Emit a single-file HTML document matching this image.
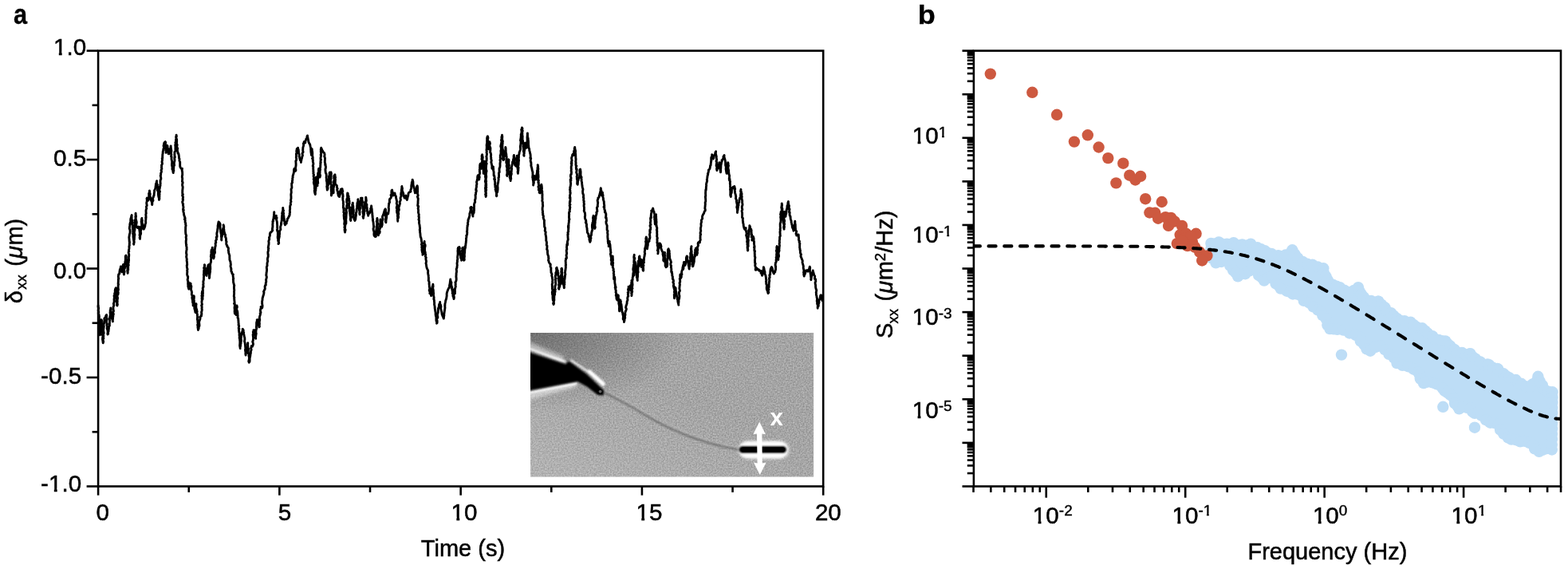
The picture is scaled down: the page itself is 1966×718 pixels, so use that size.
<!DOCTYPE html>
<html lang="en"><head><meta charset="utf-8"><title>Figure</title>
<style>html,body{margin:0;padding:0;background:#fff;}body{width:1966px;height:718px;overflow:hidden;}svg{display:block;font-family:'Liberation Sans', sans-serif;}</style>
</head><body>
<svg width="1966" height="718" viewBox="0 0 1966 718" role="img" aria-label="Figure: panel a, displacement trace versus time with micrograph inset; panel b, power spectral density versus frequency">
<rect x="0" y="0" width="1966" height="718" fill="#fff"/>
<defs>
<filter id="grain" x="0" y="0" width="100%" height="100%" color-interpolation-filters="sRGB"><feTurbulence type="fractalNoise" baseFrequency="0.55" numOctaves="2" seed="7" result="n"/><feGaussianBlur in="n" stdDeviation="0.55" result="nb"/><feColorMatrix in="nb" type="matrix" values="0 0 0 0.30 0.495  0 0 0 0.30 0.495  0 0 0 0.30 0.495  0 0 0 0 1"/></filter>
<filter id="b1" x="-20%" y="-20%" width="140%" height="140%"><feGaussianBlur stdDeviation="1.1"/></filter>
<filter id="b2" x="-20%" y="-20%" width="140%" height="140%"><feGaussianBlur stdDeviation="2.2"/></filter>
<filter id="b05" x="-20%" y="-20%" width="140%" height="140%"><feGaussianBlur stdDeviation="0.7"/></filter>
<radialGradient id="shadeTL" cx="0" cy="0" r="0.55" gradientTransform="scale(1,1)"><stop offset="0" stop-color="#000" stop-opacity="0.32"/><stop offset="1" stop-color="#000" stop-opacity="0"/></radialGradient>
<linearGradient id="shadeBL" x1="0" y1="1" x2="0.5" y2="0.4"><stop offset="0" stop-color="#fff" stop-opacity="0.16"/><stop offset="1" stop-color="#fff" stop-opacity="0"/></linearGradient>
<clipPath id="insetClip"><rect x="665.1" y="417.0" width="355.0" height="180.6"/></clipPath>
</defs>
<g clip-path="url(#insetClip)">
<rect x="665.1" y="417.0" width="355.0" height="180.6" fill="#9b9b9b" filter="url(#grain)"/>
<rect x="665.1" y="417.0" width="355.0" height="180.6" fill="url(#shadeTL)"/>
<rect x="665.1" y="417.0" width="355.0" height="180.6" fill="url(#shadeBL)"/>
<path d="M757.5,492.0 L768.0,497.2 L779.1,503.0 L792.3,510.0 L805.0,517.8 L818.8,525.6 L832.0,532.6 L845.3,538.9 L858.0,544.4 L871.8,549.5 L885.0,553.8 L898.2,557.5 L910.0,560.3 L919.4,562.1 L927.0,563.4" fill="none" stroke="#c8c8c8" stroke-width="2" opacity="0.35" transform="translate(1.2,-2.4)" filter="url(#b1)"/>
<path d="M757.5,492.0 L768.0,497.2 L779.1,503.0 L792.3,510.0 L805.0,517.8 L818.8,525.6 L832.0,532.6 L845.3,538.9 L858.0,544.4 L871.8,549.5 L885.0,553.8 L898.2,557.5 L910.0,560.3 L919.4,562.1 L927.0,563.4" fill="none" stroke="#505050" stroke-width="2.4" opacity="0.6" filter="url(#b1)"/>
<g filter="url(#b2)">
<path d="M660,431 L706,450.5" stroke="#fff" stroke-width="7" fill="none" opacity="0.5"/>
<path d="M660,498 L722,481.5" stroke="#fff" stroke-width="7" fill="none" opacity="0.5"/>
</g>
<g filter="url(#b1)">
<path d="M662,436.2 L709,453.4" stroke="#fff" stroke-width="2.8" fill="none" opacity="0.95"/>
<path d="M662,492.6 L723.5,480.4" stroke="#fff" stroke-width="2.8" fill="none" opacity="0.95"/>
<path d="M716,451.5 L738,466 L756,482.5" stroke="#fff" stroke-width="2.6" fill="none" stroke-linecap="round" opacity="0.8"/>
<path d="M739,465.5 L756.5,481" stroke="#fff" stroke-width="4.6" fill="none" stroke-linecap="round"/>
</g>
<g filter="url(#b1)">
<path d="M660,440.5 L709.4,456.5 L713,452.5 L735.2,468.5 L757.5,489.5 L756.5,495.5 L749.5,495 L736,484.5 L724.1,478 L660,490 Z" fill="#000"/>
</g>
<path d="M660,445 L708,459.5 L713.5,456 L732,471 L722,474.5 L660,486 Z" fill="#000"/>
<circle cx="752.6" cy="490.6" r="1.9" fill="#5e5e5e" filter="url(#b05)"/>
<g filter="url(#b2)"><rect x="927.5" y="553.2" width="61" height="21" rx="10.5" fill="#fff"/></g>
<g filter="url(#b1)"><rect x="926" y="553.5" width="61.5" height="20" rx="10" fill="#fff" opacity="0.75"/></g>
<g filter="url(#b1)"><rect x="926.5" y="559.2" width="59.5" height="8.4" rx="4.2" fill="#000"/></g>
<rect x="929" y="560.3" width="55" height="6.2" rx="3.1" fill="#000"/>
<g fill="#fff" filter="url(#b05)">
<path d="M952.2,528.6 L960.0,544.2 L955.4,543.4 L955.8,580.6 L960.6,579.6 L952.8,595.0 L945.0,579.6 L949.6,580.6 L949.0,543.4 L944.4,544.2 Z"/>
</g>
<text x="973.8" y="533" font-size="29.5" font-weight="bold" fill="#fff" text-anchor="middle">x</text>
</g>
<path d="M123.1,383.0 L123.1,384.6 L123.7,386.0 L123.4,387.8 L123.2,389.1 L123.8,391.2 L123.3,391.8 L123.4,394.3 L124.1,394.3 L124.5,397.7 L124.3,398.5 L124.3,399.8 L124.0,400.4 L124.5,402.0 L124.2,403.9 L124.1,405.9 L124.6,408.2 L124.8,409.3 L124.9,410.9 L124.9,411.6 L125.5,414.6 L125.5,415.6 L125.0,416.1 L125.1,417.4 L125.4,419.8 L125.7,418.1 L125.9,416.6 L126.2,416.0 L125.3,413.3 L126.4,412.3 L126.5,410.7 L125.8,409.7 L126.6,407.5 L126.0,406.2 L127.0,405.5 L126.3,403.0 L126.4,401.2 L126.9,400.6 L127.5,401.3 L127.5,403.2 L127.4,405.1 L128.0,406.0 L127.7,407.8 L127.7,409.0 L127.9,410.3 L128.8,412.9 L128.2,414.6 L128.2,415.3 L128.9,417.3 L128.2,419.6 L128.4,419.7 L129.1,421.5 L128.7,422.5 L128.5,425.1 L128.8,426.7 L129.0,428.0 L129.2,429.7 L129.7,428.1 L129.4,427.3 L129.1,424.3 L129.9,424.1 L129.3,421.2 L129.9,421.2 L129.5,419.6 L130.2,417.3 L129.8,414.8 L129.5,414.9 L129.8,412.8 L129.9,411.5 L130.3,408.9 L130.0,408.1 L130.0,405.6 L130.5,405.3 L130.7,402.5 L131.1,400.8 L130.7,399.8 L131.0,398.6 L132.3,398.3 L132.6,396.1 L132.8,395.5 L133.5,394.5 L133.7,395.3 L133.5,398.3 L134.3,399.4 L134.1,400.8 L133.6,401.2 L133.6,404.5 L134.4,406.1 L133.8,407.0 L134.3,408.7 L134.3,410.8 L134.1,411.4 L134.9,413.7 L135.0,414.8 L135.1,416.8 L134.8,417.8 L135.0,419.0 L135.7,418.3 L135.4,416.8 L136.1,414.9 L136.2,413.1 L136.4,412.2 L136.5,410.6 L136.3,409.3 L137.4,408.3 L137.3,405.7 L137.5,404.6 L137.4,403.6 L137.6,401.4 L137.3,400.3 L137.4,398.5 L137.9,396.2 L138.2,395.2 L138.3,394.5 L138.0,391.2 L138.2,391.0 L138.2,388.4 L139.0,387.9 L138.7,386.0 L138.8,388.4 L138.9,389.4 L138.9,390.5 L139.7,393.0 L139.9,393.5 L139.8,394.9 L139.9,396.8 L139.9,398.3 L141.0,400.5 L141.3,402.3 L141.4,402.9 L141.3,400.7 L141.6,399.4 L141.4,398.1 L141.9,396.8 L141.7,395.9 L142.4,393.6 L141.6,391.2 L142.5,389.7 L142.4,389.3 L142.1,388.2 L141.9,385.3 L142.4,383.6 L142.9,382.5 L142.3,380.5 L142.9,379.8 L142.9,378.7 L143.2,377.8 L143.0,375.3 L143.3,373.3 L143.3,371.8 L143.0,370.9 L143.9,368.9 L143.6,367.8 L144.2,366.7 L144.3,365.7 L144.2,364.3 L144.5,362.3 L145.3,360.7 L145.3,360.7 L145.8,362.6 L145.0,363.5 L145.6,365.9 L145.4,366.6 L145.9,368.5 L146.1,369.3 L145.8,370.2 L145.7,372.3 L146.1,374.4 L146.2,375.8 L146.0,377.7 L146.9,379.3 L146.7,380.5 L146.6,382.3 L147.0,383.0 L147.4,381.1 L146.6,379.7 L147.2,378.7 L147.1,375.7 L147.5,374.1 L147.5,372.8 L147.1,372.4 L147.0,369.5 L147.4,369.1 L147.8,367.4 L147.9,365.4 L148.0,363.0 L147.6,362.2 L147.4,363.7 L147.5,365.5 L147.9,366.5 L148.2,367.9 L147.9,369.2 L147.7,367.4 L148.3,366.8 L147.7,365.1 L148.5,362.9 L148.1,360.6 L148.1,359.7 L148.2,357.1 L148.6,356.5 L148.1,355.5 L148.3,353.3 L148.4,350.8 L148.3,349.9 L148.8,349.4 L148.3,346.9 L148.5,345.3 L148.7,343.7 L149.8,343.1 L149.9,340.8 L150.2,339.1 L150.2,338.3 L151.2,335.9 L151.4,334.3 L151.4,333.9 L151.4,334.7 L152.2,336.3 L152.2,338.3 L152.2,339.9 L152.9,340.8 L152.8,339.3 L153.2,337.1 L153.7,336.1 L153.8,334.5 L154.2,332.5 L154.5,331.6 L154.3,333.4 L154.9,334.7 L155.2,336.4 L155.4,337.2 L155.4,339.9 L155.7,340.4 L155.2,343.2 L155.5,343.9 L155.4,343.3 L156.2,340.1 L155.7,339.7 L155.8,336.9 L156.5,336.0 L156.6,333.9 L156.3,333.5 L156.0,331.0 L156.8,330.9 L156.8,328.5 L157.4,326.4 L157.2,326.2 L157.4,324.7 L157.3,322.1 L157.4,320.6 L158.0,320.1 L158.2,321.5 L158.4,322.2 L158.2,323.7 L159.1,326.7 L159.3,326.3 L159.1,328.5 L158.7,331.0 L159.3,332.1 L159.3,333.1 L159.6,334.5 L159.8,335.2 L160.0,338.4 L159.6,339.2 L160.3,340.6 L160.1,342.3 L159.9,340.1 L160.3,338.3 L160.8,338.3 L160.7,336.9 L160.7,334.5 L160.8,333.1 L161.3,332.2 L160.7,330.9 L161.2,329.1 L161.4,326.8 L161.6,326.2 L161.5,324.5 L161.4,322.4 L161.7,320.7 L161.7,318.5 L161.4,317.8 L161.1,316.0 L161.8,315.0 L161.4,314.1 L161.9,311.4 L162.0,310.3 L161.9,308.4 L162.4,307.4 L162.2,306.1 L162.5,303.1 L162.2,303.0 L162.1,301.0 L162.0,299.2 L161.8,297.3 L162.2,295.6 L162.1,295.6 L162.5,293.3 L163.0,291.9 L163.1,290.5 L163.0,287.9 L162.8,287.7 L162.3,286.5 L162.5,284.1 L162.9,282.6 L162.8,281.0 L163.4,278.6 L164.0,277.8 L163.7,276.6 L163.8,274.5 L164.1,273.4 L164.6,272.2 L164.6,271.3 L165.2,269.6 L165.1,270.0 L165.1,271.6 L165.1,274.5 L165.5,276.2 L165.9,276.0 L166.3,279.2 L165.5,280.6 L165.9,281.2 L166.5,282.2 L166.2,285.1 L166.3,285.6 L166.6,287.2 L167.0,289.5 L166.7,289.6 L166.9,291.9 L166.6,292.7 L167.0,294.4 L167.0,297.1 L167.2,297.9 L167.4,299.8 L167.7,301.6 L168.1,304.0 L167.9,304.2 L167.8,306.3 L167.5,305.5 L168.3,303.4 L167.9,301.1 L168.4,300.1 L168.4,298.6 L168.6,296.2 L168.2,296.1 L169.0,294.4 L168.2,291.1 L168.5,290.3 L169.0,288.0 L169.0,286.4 L169.0,285.6 L168.7,284.5 L169.3,282.8 L169.2,281.0 L169.1,279.2 L169.7,278.7 L169.1,275.7 L170.0,275.2 L170.0,272.8 L169.8,271.4 L170.2,270.1 L170.2,269.8 L170.1,267.3 L170.0,268.9 L170.6,271.2 L170.4,271.6 L170.1,274.1 L170.2,274.1 L170.8,276.4 L171.1,277.6 L171.3,278.7 L170.8,281.4 L170.8,282.2 L171.3,284.1 L172.3,285.3 L172.9,285.6 L173.4,284.2 L174.4,284.1 L174.4,286.1 L174.5,286.4 L174.9,288.8 L175.2,291.1 L175.3,291.6 L175.3,292.9 L175.0,294.6 L175.7,297.2 L175.1,297.6 L175.5,299.4 L175.5,297.6 L175.7,296.1 L175.7,295.0 L176.5,293.4 L176.7,291.9 L176.2,290.8 L176.7,288.7 L177.2,286.7 L176.5,285.7 L177.1,284.2 L177.6,282.9 L177.6,280.2 L177.5,280.1 L177.1,277.1 L177.9,277.2 L177.4,275.2 L177.9,273.4 L177.7,275.4 L178.4,275.9 L178.1,278.5 L178.5,280.0 L178.6,280.7 L179.3,282.9 L179.0,284.2 L179.1,285.6 L179.9,286.8 L180.2,287.2 L181.1,285.5 L181.5,284.4 L181.9,283.2 L182.0,281.0 L182.5,280.3 L182.8,278.3 L182.5,276.9 L182.9,274.8 L182.7,272.7 L183.1,272.8 L182.9,269.7 L182.8,268.6 L183.3,267.3 L183.1,266.7 L183.0,264.0 L183.1,263.2 L183.8,260.8 L183.6,260.0 L183.4,259.0 L184.0,258.1 L184.2,257.5 L183.7,254.4 L183.9,253.2 L184.0,252.8 L184.4,250.4 L184.0,249.0 L184.3,248.1 L184.5,249.6 L185.2,250.2 L185.9,251.1 L186.4,249.5 L186.0,248.8 L186.9,246.2 L186.7,245.9 L186.8,242.9 L186.6,242.8 L187.5,240.2 L187.4,238.9 L187.7,240.4 L187.7,242.9 L188.3,242.9 L187.9,244.9 L188.6,247.1 L188.9,248.1 L189.5,249.7 L189.2,250.2 L189.7,251.8 L190.5,253.7 L190.6,256.1 L190.8,256.5 L190.8,255.1 L190.9,254.1 L191.0,252.7 L192.0,251.3 L191.5,248.7 L192.4,246.9 L192.4,246.1 L193.1,244.9 L193.2,242.9 L193.4,241.6 L193.7,239.5 L193.5,238.9 L194.4,237.0 L194.6,236.4 L195.1,235.0 L195.0,234.3 L195.4,231.8 L195.4,230.4 L196.1,229.8 L196.2,228.4 L196.6,226.6 L196.4,228.0 L196.9,230.7 L197.5,231.7 L196.9,232.7 L197.7,234.0 L197.8,236.0 L197.4,238.7 L198.4,238.7 L198.4,240.4 L198.3,242.5 L198.4,243.7 L198.7,245.9 L198.8,246.6 L199.4,248.4 L199.4,250.4 L199.9,249.0 L199.8,247.1 L200.0,245.2 L199.4,243.7 L200.1,243.5 L199.7,241.4 L200.5,240.3 L199.8,238.2 L200.0,236.5 L200.4,235.8 L200.5,233.4 L201.1,232.6 L200.8,231.5 L201.2,230.3 L201.0,227.8 L201.1,225.6 L201.2,225.5 L201.9,224.1 L201.7,222.2 L201.2,220.1 L201.7,219.2 L201.6,217.2 L202.1,216.5 L202.5,214.6 L202.0,213.3 L202.9,211.4 L202.5,209.8 L202.7,208.2 L202.5,207.1 L203.5,205.2 L203.4,204.3 L203.0,203.0 L203.6,200.0 L203.2,198.5 L203.8,197.9 L203.7,196.8 L203.8,194.4 L203.8,193.8 L204.3,191.4 L204.1,190.6 L204.7,188.4 L204.9,186.3 L205.4,186.2 L205.5,183.9 L205.0,182.8 L205.4,181.4 L205.8,179.1 L206.3,178.5 L207.3,177.6 L207.7,178.5 L207.5,179.8 L207.1,181.5 L208.2,184.6 L207.9,184.9 L208.0,187.2 L207.8,188.5 L208.3,188.9 L208.1,191.4 L208.1,189.8 L208.2,188.1 L208.9,186.1 L209.1,184.8 L209.4,183.4 L209.6,182.2 L210.0,182.8 L210.2,184.5 L210.7,187.0 L210.5,188.1 L210.8,190.2 L211.2,191.9 L211.2,192.9 L211.7,192.9 L212.5,191.6 L212.7,189.8 L212.9,188.3 L213.4,187.9 L213.6,185.7 L213.8,185.1 L214.2,182.9 L214.1,183.6 L214.6,186.9 L214.7,187.9 L214.9,188.9 L214.8,190.0 L214.4,192.3 L214.9,193.8 L214.5,196.0 L215.1,196.6 L215.0,198.5 L215.0,199.5 L215.8,202.8 L215.6,204.2 L215.5,205.7 L215.4,207.1 L215.8,208.2 L216.1,210.4 L215.9,211.6 L216.1,212.5 L217.2,212.8 L216.8,214.8 L217.3,216.6 L217.2,214.3 L217.9,214.3 L217.6,212.0 L217.9,209.9 L217.5,210.1 L217.9,207.8 L218.6,207.3 L218.3,204.3 L218.2,204.3 L219.0,201.4 L219.0,200.2 L218.8,199.0 L218.9,196.8 L219.4,197.0 L218.9,194.7 L218.9,193.7 L218.9,190.6 L219.7,189.5 L220.0,189.0 L219.9,186.0 L220.0,186.1 L219.9,182.9 L219.7,181.8 L220.3,180.0 L219.9,178.6 L220.4,177.6 L220.6,176.8 L220.5,175.1 L221.1,173.5 L220.6,171.6 L221.4,170.9 L221.1,169.2 L221.0,171.0 L220.9,173.3 L221.4,174.0 L221.6,174.6 L221.7,176.7 L221.5,179.3 L221.4,179.9 L222.2,181.4 L221.8,183.6 L221.8,185.9 L222.7,185.8 L222.3,188.3 L222.8,190.3 L223.1,192.2 L223.7,192.3 L224.2,194.4 L224.4,196.3 L224.4,197.8 L225.0,199.1 L224.9,201.3 L225.2,202.1 L225.7,203.0 L225.7,204.5 L225.7,206.2 L225.7,208.2 L226.2,209.8 L227.0,210.8 L227.2,211.3 L228.5,211.3 L228.2,212.8 L228.3,214.5 L228.6,215.0 L228.7,217.8 L228.7,219.7 L228.4,219.8 L228.3,222.0 L228.7,223.4 L228.6,225.7 L228.4,227.4 L229.0,228.2 L229.2,229.1 L228.6,230.8 L228.6,232.4 L229.2,234.3 L229.1,235.8 L228.9,237.5 L228.7,239.4 L228.8,239.7 L228.7,242.1 L229.4,243.8 L228.6,244.5 L228.9,245.6 L229.6,246.7 L229.1,249.6 L229.6,249.9 L229.0,252.5 L228.6,253.0 L229.1,255.0 L229.7,255.5 L229.4,257.1 L229.7,257.9 L230.0,260.0 L229.5,262.4 L230.3,263.3 L229.7,263.8 L230.0,265.7 L230.4,266.7 L230.7,269.7 L231.0,270.0 L231.5,271.9 L232.2,273.6 L231.4,274.7 L232.2,275.6 L232.1,278.4 L232.8,279.7 L232.6,281.0 L233.1,282.5 L232.6,284.8 L232.7,286.2 L232.6,286.9 L232.6,288.8 L232.6,289.6 L232.7,291.7 L232.9,293.2 L233.6,295.2 L233.6,295.8 L233.1,297.0 L233.5,299.2 L233.4,301.0 L233.2,301.5 L233.2,303.6 L233.4,306.4 L233.8,306.6 L233.5,307.9 L234.1,309.9 L234.0,312.1 L234.2,312.3 L233.7,314.5 L233.5,317.0 L233.8,318.4 L234.0,318.5 L233.9,320.4 L233.6,321.7 L234.1,323.9 L234.3,324.5 L234.1,326.9 L234.4,327.8 L234.6,329.6 L234.7,331.9 L234.2,332.5 L234.4,335.1 L234.6,336.0 L235.1,337.2 L234.6,339.0 L234.9,340.8 L234.7,341.4 L234.6,344.1 L235.2,346.0 L235.7,346.5 L235.5,349.3 L235.1,350.4 L235.6,352.4 L235.9,352.5 L235.7,353.8 L235.7,356.1 L235.9,357.4 L235.8,358.9 L236.3,360.7 L236.7,362.2 L236.7,360.0 L237.0,359.1 L237.0,358.0 L237.2,355.3 L237.7,354.6 L238.3,354.8 L239.2,355.4 L239.0,356.9 L239.7,358.2 L239.9,358.5 L239.7,360.6 L239.5,362.1 L239.7,363.6 L240.3,365.0 L240.5,366.4 L240.4,367.5 L240.3,369.1 L241.3,371.0 L240.8,372.7 L240.9,373.8 L241.3,375.3 L241.6,377.8 L241.5,378.5 L242.2,380.5 L242.1,381.7 L242.1,383.0 L242.1,381.3 L242.1,380.6 L242.8,378.1 L243.0,375.9 L242.3,375.3 L242.6,373.5 L243.4,371.6 L243.0,370.7 L242.8,371.7 L243.4,373.3 L242.8,375.4 L243.3,376.3 L243.5,378.7 L243.7,380.2 L243.8,382.1 L244.3,382.6 L243.8,385.3 L243.8,386.5 L244.1,387.6 L244.6,389.2 L245.1,390.8 L244.9,391.4 L244.7,390.1 L245.2,388.5 L245.2,386.4 L245.7,385.3 L245.4,383.2 L245.6,381.6 L245.9,380.7 L246.1,381.4 L245.8,382.8 L245.9,385.5 L246.1,386.5 L246.8,388.0 L246.4,390.2 L247.2,390.1 L246.7,392.4 L247.4,393.7 L247.4,394.9 L247.6,396.5 L247.5,398.3 L247.4,400.4 L248.0,402.0 L247.8,402.7 L248.0,404.7 L248.3,406.6 L247.6,407.2 L248.3,408.5 L247.9,409.6 L248.4,413.0 L248.4,413.6 L249.2,411.4 L249.2,410.4 L249.4,408.8 L250.0,408.5 L249.9,406.0 L249.6,404.9 L249.9,402.0 L250.2,401.8 L251.1,399.1 L250.6,397.4 L251.0,396.8 L251.8,396.4 L252.5,396.0 L252.5,394.1 L252.9,393.6 L252.5,391.1 L252.9,390.3 L253.3,388.0 L253.0,386.8 L253.2,384.4 L252.6,382.8 L253.4,381.6 L253.1,379.7 L252.9,378.0 L253.2,376.7 L253.3,375.4 L253.0,374.3 L253.2,372.3 L252.9,370.3 L253.8,369.3 L253.1,367.5 L253.5,367.5 L253.6,365.0 L253.3,367.2 L253.6,367.8 L253.9,369.2 L253.2,371.0 L253.8,372.6 L253.4,374.7 L253.6,375.3 L254.1,374.8 L253.9,372.9 L254.4,370.1 L253.9,368.5 L254.5,367.7 L254.2,365.3 L254.4,365.2 L254.4,363.3 L254.2,361.2 L255.1,359.4 L254.7,359.5 L255.0,357.9 L254.7,356.6 L255.1,355.1 L254.8,353.1 L255.4,350.7 L255.5,349.8 L255.4,348.0 L255.7,346.0 L255.4,344.8 L255.4,343.6 L255.7,343.0 L255.6,341.1 L255.7,338.8 L256.3,337.4 L255.6,335.9 L256.4,334.1 L256.5,333.2 L256.4,331.6 L256.8,332.5 L256.5,334.0 L257.0,336.1 L256.9,337.7 L257.5,338.9 L257.9,340.8 L258.3,343.2 L258.4,344.6 L259.1,345.4 L259.1,344.4 L259.0,343.3 L259.5,341.7 L259.4,339.1 L260.1,337.1 L259.8,336.6 L260.2,334.7 L261.1,333.3 L260.9,332.3 L261.7,331.6 L262.3,332.4 L262.0,334.4 L262.1,335.6 L262.1,338.5 L262.4,339.5 L262.1,340.9 L261.8,343.0 L262.5,343.8 L262.5,345.2 L262.3,346.4 L262.5,348.5 L262.7,347.1 L262.8,344.5 L263.0,343.8 L263.1,342.5 L263.6,340.1 L263.3,340.3 L263.7,337.4 L263.8,337.2 L263.7,334.7 L263.7,333.9 L263.5,332.6 L264.0,329.5 L264.4,328.8 L264.6,327.7 L264.5,325.5 L264.8,323.1 L264.8,322.8 L264.3,321.5 L264.6,319.4 L265.1,317.2 L264.8,316.3 L264.9,315.0 L265.1,313.3 L266.2,311.7 L266.3,310.2 L266.2,312.3 L267.0,313.8 L266.9,315.6 L267.3,315.6 L267.0,317.0 L266.9,319.0 L267.9,321.5 L267.3,321.8 L267.8,323.9 L268.0,323.1 L268.5,321.7 L268.2,320.3 L268.6,318.1 L269.5,316.7 L269.4,314.8 L269.2,313.6 L269.7,310.7 L269.7,309.8 L270.2,308.2 L270.3,307.5 L270.1,304.8 L270.8,304.0 L270.4,301.7 L270.9,301.0 L271.6,299.7 L271.2,297.3 L272.1,296.7 L272.0,294.6 L271.8,293.1 L271.9,292.0 L272.4,290.2 L272.6,289.3 L272.7,287.1 L273.0,286.5 L273.1,284.5 L273.1,282.7 L273.4,281.8 L273.6,280.2 L274.0,278.0 L274.9,278.7 L275.5,279.5 L276.1,280.8 L276.1,282.8 L276.0,283.2 L276.1,285.2 L276.3,288.1 L276.6,288.7 L276.5,290.6 L277.1,291.3 L277.0,292.6 L277.6,294.3 L277.3,296.0 L277.8,298.6 L277.7,299.5 L277.8,301.0 L277.6,300.2 L277.7,297.6 L278.2,296.8 L278.7,294.5 L279.1,294.2 L278.4,292.0 L279.0,290.2 L279.2,288.6 L279.4,287.1 L279.7,286.2 L280.2,285.6 L280.4,283.0 L280.1,281.8 L280.7,283.5 L280.7,285.7 L280.3,286.0 L280.9,287.8 L280.9,289.9 L281.1,290.1 L281.6,291.8 L281.7,293.1 L282.6,294.0 L282.5,296.7 L283.2,297.9 L283.5,299.9 L283.4,301.6 L284.1,303.0 L283.7,304.0 L283.8,306.3 L284.9,307.9 L284.7,308.6 L285.0,309.1 L286.2,310.2 L286.5,311.8 L286.2,313.8 L286.6,314.8 L286.6,316.4 L286.8,317.0 L287.4,318.9 L287.9,320.4 L287.8,322.4 L287.9,323.1 L287.9,325.4 L288.4,326.9 L288.9,327.7 L289.1,329.4 L289.4,331.7 L289.0,333.4 L289.3,334.7 L290.0,337.1 L289.8,336.8 L289.9,339.9 L290.8,341.2 L290.8,342.3 L291.3,343.2 L292.4,343.9 L292.0,344.6 L292.4,347.9 L292.8,349.2 L292.3,349.8 L292.5,351.0 L292.6,353.9 L292.9,354.6 L293.4,356.9 L293.8,357.8 L293.4,359.2 L293.5,361.5 L293.4,361.9 L293.8,363.3 L293.5,365.2 L293.6,366.6 L293.6,368.3 L293.3,370.6 L293.3,371.5 L293.9,372.8 L293.6,373.7 L293.8,375.7 L293.9,377.1 L294.2,379.1 L293.5,380.5 L294.5,381.2 L294.2,384.7 L294.0,385.5 L294.1,386.4 L294.3,388.5 L294.1,389.9 L294.3,391.9 L294.4,392.9 L294.7,392.9 L295.9,394.5 L295.8,392.6 L296.4,391.5 L296.6,390.0 L296.2,389.1 L296.1,388.3 L297.0,385.5 L296.6,385.1 L297.0,383.0 L297.4,384.8 L296.7,386.6 L296.8,387.8 L297.4,390.0 L297.6,389.7 L298.0,392.7 L297.8,392.7 L298.1,395.1 L298.1,397.7 L298.0,398.3 L298.7,399.0 L298.8,401.2 L299.0,402.7 L299.0,404.3 L299.3,406.0 L299.0,407.1 L299.7,408.2 L299.2,411.2 L299.9,412.2 L299.4,412.9 L299.8,416.1 L300.1,417.5 L300.2,418.2 L300.0,419.6 L300.4,422.0 L300.1,423.6 L300.5,423.4 L300.6,425.6 L300.9,428.3 L300.8,429.3 L300.8,431.0 L300.6,432.5 L300.7,433.7 L300.9,434.8 L301.2,436.6 L301.0,434.8 L301.6,433.6 L301.5,432.2 L302.1,430.2 L302.0,428.9 L302.5,427.1 L302.3,425.3 L302.0,424.8 L302.5,422.3 L302.1,421.9 L302.6,419.8 L302.8,418.7 L303.2,416.9 L303.6,416.1 L304.3,413.5 L304.2,412.1 L304.5,412.7 L305.2,413.6 L305.1,416.2 L305.7,416.7 L305.4,418.6 L306.1,419.9 L306.0,420.6 L306.8,423.3 L306.8,423.5 L306.9,425.3 L306.5,427.5 L306.9,428.9 L307.1,429.6 L307.4,432.0 L307.6,434.2 L307.6,434.5 L307.9,436.7 L307.4,438.4 L307.9,438.7 L307.6,439.7 L308.0,441.6 L307.8,443.1 L308.1,445.0 L308.1,443.7 L308.5,441.9 L308.8,441.0 L309.4,439.7 L309.9,437.6 L310.1,437.5 L310.1,435.5 L310.4,434.0 L310.5,433.4 L310.8,430.7 L310.7,429.7 L310.4,432.1 L310.8,433.3 L310.8,434.2 L311.0,436.3 L311.7,437.4 L311.4,438.6 L311.1,441.3 L311.1,442.8 L311.8,442.6 L312.1,444.2 L311.9,445.8 L312.4,447.7 L312.4,448.8 L312.3,450.3 L311.7,452.8 L312.3,454.2 L313.0,453.2 L313.1,452.0 L313.1,449.2 L313.3,448.0 L313.6,446.9 L313.8,445.8 L314.0,443.7 L314.4,442.6 L314.4,440.4 L314.6,439.8 L315.2,438.3 L314.6,436.2 L315.0,435.5 L315.3,433.5 L316.5,434.1 L316.9,432.8 L317.4,432.0 L317.4,430.5 L316.7,428.0 L317.3,426.8 L317.4,425.0 L317.8,422.4 L317.5,422.5 L317.1,419.2 L318.0,419.3 L317.3,415.9 L318.2,415.6 L317.9,413.6 L319.5,413.6 L319.7,415.3 L320.1,417.3 L319.5,417.4 L320.5,420.7 L320.7,421.1 L320.4,422.5 L320.7,424.3 L320.3,423.3 L320.7,421.4 L321.0,419.3 L321.3,417.9 L320.9,417.2 L321.0,414.1 L321.2,413.2 L321.8,411.3 L321.4,410.4 L321.5,408.6 L321.6,407.7 L321.6,404.8 L321.8,403.4 L322.4,402.5 L322.2,400.6 L323.8,400.6 L324.2,402.2 L323.7,404.2 L324.0,404.6 L324.4,407.7 L324.5,408.0 L324.8,409.8 L325.4,409.3 L325.0,406.2 L325.5,406.0 L325.2,404.6 L325.3,402.1 L325.7,401.5 L325.7,400.2 L325.3,398.1 L325.8,395.8 L326.1,395.2 L326.6,393.0 L326.1,392.9 L327.0,391.5 L326.5,390.0 L326.5,388.0 L327.4,385.4 L327.1,384.5 L327.4,385.6 L328.4,386.0 L328.9,385.0 L329.1,382.9 L328.6,380.7 L328.7,380.8 L328.6,377.8 L329.0,376.0 L329.1,374.7 L329.1,373.8 L329.6,372.3 L329.9,370.9 L330.5,369.2 L331.0,366.8 L330.5,365.3 L331.1,364.6 L331.3,363.8 L332.3,362.0 L332.2,360.7 L332.1,358.8 L332.8,357.2 L333.3,357.1 L333.2,354.8 L333.8,353.0 L333.7,351.5 L333.5,350.9 L334.4,347.5 L334.3,346.7 L333.7,344.7 L333.9,344.3 L334.1,341.4 L334.2,341.4 L334.5,339.6 L334.6,337.1 L334.3,335.8 L334.4,334.2 L335.1,332.9 L335.0,331.9 L335.0,329.8 L335.3,328.5 L335.8,327.2 L335.4,325.6 L335.5,323.6 L336.1,321.9 L336.2,321.6 L336.3,318.7 L336.0,318.8 L335.9,315.6 L336.5,314.2 L336.4,312.5 L336.9,311.3 L336.2,310.5 L336.5,308.7 L336.8,307.1 L337.0,306.4 L337.1,303.8 L336.8,302.5 L337.2,301.1 L337.8,299.4 L337.4,297.9 L338.0,296.6 L338.6,294.4 L338.3,293.3 L339.0,291.3 L339.9,291.0 L340.9,289.7 L341.4,289.5 L341.8,288.6 L341.4,287.4 L341.7,285.0 L341.9,284.5 L341.9,282.2 L341.8,281.4 L342.1,279.0 L341.9,277.3 L342.7,277.0 L342.5,274.9 L343.1,274.2 L343.1,272.4 L343.3,270.9 L343.6,268.1 L343.8,266.9 L343.7,265.7 L343.7,268.1 L343.7,268.8 L344.3,270.9 L344.8,272.7 L344.9,273.4 L345.9,272.7 L345.5,271.7 L346.4,270.3 L346.2,272.8 L347.1,273.0 L346.5,275.3 L347.2,277.4 L347.2,277.2 L347.4,278.6 L347.6,281.6 L347.7,283.3 L347.6,285.0 L347.8,285.6 L347.6,286.9 L347.4,288.0 L348.0,290.2 L348.4,291.2 L348.3,293.9 L348.5,294.9 L348.2,295.9 L348.2,298.2 L348.8,300.3 L348.6,301.8 L349.2,302.1 L349.4,304.3 L349.0,305.6 L349.7,304.6 L349.3,302.1 L349.6,300.9 L349.4,300.2 L350.0,297.8 L350.4,295.9 L350.1,295.0 L350.6,293.3 L350.5,291.4 L350.6,289.3 L351.1,288.8 L351.9,287.5 L351.6,285.5 L351.6,284.1 L352.1,282.6 L352.8,280.3 L352.4,279.9 L352.9,278.1 L353.0,277.3 L353.5,274.4 L353.3,274.4 L353.5,271.2 L353.6,270.3 L354.1,268.0 L353.6,267.6 L353.9,266.5 L354.5,264.3 L354.7,263.5 L354.8,261.7 L354.7,260.4 L354.8,261.0 L355.0,264.1 L355.6,263.8 L354.9,265.6 L355.7,267.4 L355.3,268.8 L355.9,270.9 L355.9,271.9 L356.1,273.6 L356.6,274.9 L356.1,276.5 L356.4,276.7 L357.0,278.0 L356.8,280.2 L357.5,281.8 L358.1,279.7 L359.2,280.0 L359.3,278.0 L359.8,277.0 L360.1,276.7 L360.4,274.1 L361.3,273.4 L361.5,273.0 L362.3,270.9 L362.7,270.7 L363.3,268.8 L363.1,267.9 L363.6,265.8 L363.3,264.3 L363.5,262.6 L363.7,261.3 L363.6,260.0 L363.6,259.3 L363.9,257.4 L364.6,256.2 L364.4,255.0 L364.3,254.3 L365.0,252.7 L364.5,251.0 L365.0,248.8 L365.0,248.6 L365.0,246.6 L364.9,245.1 L364.8,243.9 L365.1,241.9 L365.3,241.4 L365.2,239.3 L365.0,237.2 L365.9,235.3 L365.9,233.7 L365.8,233.7 L365.7,232.0 L365.7,229.8 L366.6,228.8 L366.3,226.8 L366.8,225.6 L366.7,223.5 L367.2,222.2 L367.0,220.9 L367.6,219.0 L368.3,216.7 L368.4,215.5 L368.6,215.2 L368.5,213.0 L369.0,211.3 L369.5,212.3 L369.7,213.6 L370.5,214.3 L371.0,213.1 L370.5,211.9 L370.7,209.0 L371.0,208.1 L371.0,207.7 L371.1,206.1 L371.0,204.1 L370.8,201.7 L371.5,200.9 L371.7,198.8 L371.3,197.2 L371.6,195.0 L371.5,194.7 L371.4,192.5 L372.2,192.2 L371.7,189.2 L372.0,188.3 L372.2,186.5 L373.3,186.7 L373.6,185.2 L373.5,186.7 L374.2,187.4 L374.5,190.6 L374.1,191.8 L374.9,192.6 L375.3,193.9 L375.1,196.0 L375.5,197.1 L376.0,199.7 L376.5,200.8 L377.4,201.5 L377.4,203.6 L377.4,202.3 L377.7,201.5 L378.2,198.9 L378.5,198.2 L378.9,196.0 L379.5,194.8 L379.0,192.6 L379.7,190.8 L380.1,190.6 L379.6,188.0 L379.8,187.2 L379.8,185.6 L380.0,184.4 L380.7,182.3 L380.4,179.7 L380.9,180.1 L381.2,177.6 L382.1,179.1 L382.8,179.1 L382.8,176.8 L383.2,176.4 L383.8,174.1 L384.8,173.4 L384.9,171.4 L385.5,169.9 L385.6,171.6 L386.0,172.7 L386.2,174.1 L386.5,175.1 L386.9,177.8 L387.4,179.1 L387.6,179.4 L388.7,181.1 L388.9,182.2 L389.1,183.3 L389.7,185.7 L389.6,187.1 L389.8,188.3 L389.8,189.6 L390.0,191.3 L390.3,193.0 L390.4,194.4 L390.9,193.7 L390.4,190.4 L390.7,188.9 L391.3,188.5 L391.2,186.8 L391.1,187.7 L391.7,190.5 L391.7,191.8 L391.8,192.8 L391.6,194.5 L392.1,196.9 L392.3,198.2 L391.5,198.5 L392.5,200.6 L392.2,201.7 L392.6,203.7 L392.8,204.3 L392.9,205.7 L392.2,208.0 L392.8,209.0 L392.7,211.3 L392.9,213.7 L392.8,214.9 L393.1,216.0 L392.8,217.3 L393.6,219.3 L393.0,220.4 L393.4,221.7 L393.6,223.8 L393.1,224.5 L393.8,226.0 L393.3,228.7 L393.7,230.6 L394.0,230.4 L394.2,232.3 L394.5,234.7 L394.2,235.8 L394.7,236.4 L394.2,239.5 L394.5,239.8 L394.6,241.3 L395.3,243.5 L395.4,242.8 L395.3,239.9 L395.9,238.2 L395.8,237.6 L396.2,234.9 L395.9,234.0 L396.3,232.2 L396.2,230.6 L396.1,230.6 L395.9,227.7 L396.7,227.0 L395.9,224.4 L396.2,223.1 L396.5,222.0 L397.1,223.9 L397.5,225.4 L397.3,226.4 L397.6,228.1 L397.2,229.7 L397.7,231.3 L398.1,232.7 L397.7,230.3 L398.8,229.4 L398.2,227.4 L398.6,227.4 L398.3,225.1 L398.7,224.1 L398.9,221.5 L398.6,220.9 L398.6,219.7 L398.7,216.8 L399.2,216.6 L399.5,214.8 L399.8,213.3 L399.6,211.3 L399.4,213.5 L399.7,213.7 L399.8,214.9 L400.9,217.2 L400.3,218.0 L401.3,220.7 L401.1,222.0 L401.6,219.6 L400.9,218.5 L401.0,216.6 L401.1,216.2 L401.1,213.7 L401.6,212.6 L401.2,211.4 L401.7,209.5 L401.7,207.3 L401.9,206.1 L401.7,204.2 L402.3,203.8 L401.9,202.2 L402.5,199.8 L402.0,199.4 L402.0,197.9 L402.6,195.0 L402.1,194.0 L402.6,193.5 L402.6,192.2 L402.2,189.6 L402.9,188.8 L402.2,187.7 L402.7,185.2 L403.5,187.1 L403.7,187.7 L404.9,189.5 L405.0,189.8 L405.8,191.4 L406.5,191.4 L407.1,193.6 L406.9,195.4 L406.6,195.8 L407.1,196.8 L407.5,198.2 L407.4,200.1 L407.3,202.3 L407.3,203.5 L408.1,206.1 L407.6,206.4 L408.2,207.6 L408.5,209.1 L408.3,211.0 L407.9,211.8 L408.0,214.0 L408.4,216.9 L408.8,217.4 L409.1,218.1 L409.3,220.1 L409.1,222.6 L409.6,224.6 L409.3,225.0 L409.4,226.6 L409.9,228.5 L409.9,229.4 L410.1,232.7 L409.7,233.6 L409.8,234.0 L410.1,235.9 L410.3,238.1 L410.9,236.9 L411.1,236.3 L410.8,233.2 L411.1,232.5 L411.9,231.2 L412.3,230.0 L412.2,228.8 L412.2,225.8 L412.6,224.1 L412.4,222.6 L412.4,221.1 L413.0,219.7 L413.2,219.6 L413.1,216.7 L413.4,215.9 L414.4,216.3 L415.0,215.9 L415.4,217.5 L415.1,219.7 L415.2,221.4 L414.9,222.6 L415.2,223.5 L414.6,225.0 L414.9,226.8 L415.2,228.2 L414.7,228.9 L415.3,231.6 L415.7,233.3 L415.0,234.2 L415.3,236.4 L415.2,238.2 L415.3,238.7 L415.3,240.1 L415.8,241.0 L415.3,242.6 L415.4,245.0 L416.0,242.8 L416.2,241.9 L416.6,241.0 L417.8,240.4 L418.0,241.9 L418.2,240.9 L418.1,238.3 L418.1,237.9 L418.1,234.6 L418.8,234.0 L418.2,231.7 L419.0,231.3 L418.3,229.6 L418.5,227.5 L419.0,225.2 L419.4,224.1 L418.7,223.4 L418.8,220.4 L419.3,219.7 L420.0,218.9 L420.2,220.4 L420.6,222.6 L420.0,222.6 L420.5,225.0 L420.3,227.4 L420.3,228.4 L420.3,230.5 L420.8,231.2 L422.0,232.2 L422.4,232.7 L422.4,234.7 L423.2,236.4 L422.6,237.3 L422.9,239.0 L424.0,241.1 L423.5,242.0 L423.8,242.8 L424.2,245.0 L425.2,246.3 L425.7,246.5 L425.8,244.8 L426.4,243.9 L426.5,241.2 L426.3,239.7 L427.3,238.9 L427.3,237.3 L428.3,236.7 L429.1,236.6 L429.1,237.4 L429.8,239.7 L429.0,241.4 L429.6,242.7 L429.9,244.1 L430.1,246.3 L429.7,247.1 L429.8,248.1 L429.9,250.1 L430.0,251.0 L430.6,253.3 L430.3,254.2 L430.6,256.3 L430.4,257.3 L430.4,258.1 L430.4,260.5 L431.3,260.9 L430.9,262.0 L431.1,264.2 L430.8,266.0 L431.7,266.5 L431.1,269.4 L431.2,271.3 L431.4,272.0 L431.3,273.2 L431.6,274.8 L432.0,275.9 L432.0,279.0 L431.8,279.3 L431.7,280.7 L432.5,283.3 L431.8,284.6 L432.4,285.9 L432.0,287.7 L432.4,290.4 L432.6,291.0 L432.6,290.3 L433.2,288.0 L432.6,286.9 L432.6,284.8 L432.8,282.3 L433.2,280.8 L433.9,280.1 L433.9,279.2 L433.9,277.0 L433.7,275.7 L434.0,272.9 L434.0,271.8 L434.1,270.8 L434.2,268.8 L434.4,267.3 L434.6,266.3 L434.0,263.3 L434.1,261.8 L435.1,260.5 L434.6,259.2 L434.8,257.3 L435.2,255.8 L435.3,255.2 L434.6,253.1 L434.7,252.2 L434.8,249.4 L435.6,248.4 L435.6,246.5 L435.5,244.5 L435.6,243.0 L435.7,241.9 L436.2,242.3 L436.1,243.6 L436.9,245.5 L437.2,246.5 L436.8,249.0 L437.7,249.2 L437.2,251.6 L438.1,251.7 L438.0,254.5 L438.2,254.7 L437.5,256.1 L437.7,259.1 L438.5,259.7 L437.8,260.9 L438.3,262.7 L438.2,264.5 L438.8,266.3 L438.7,267.2 L438.9,268.5 L439.1,270.7 L439.5,271.5 L439.5,272.7 L439.2,274.7 L439.8,276.4 L439.8,274.0 L439.7,273.2 L440.7,272.5 L440.0,270.0 L440.5,268.4 L440.4,267.4 L441.2,265.5 L441.0,264.2 L440.9,262.0 L440.9,261.9 L441.3,260.4 L442.0,257.6 L441.6,256.7 L442.4,256.1 L442.3,254.2 L442.2,255.6 L442.3,257.1 L442.8,258.1 L442.9,260.9 L442.8,262.5 L443.2,262.4 L443.4,263.9 L443.3,265.2 L442.9,267.3 L443.5,269.3 L443.0,271.2 L443.3,271.9 L444.1,273.0 L443.7,273.7 L444.3,275.1 L444.9,276.4 L445.7,275.1 L446.0,272.5 L445.8,272.3 L446.4,270.3 L446.4,268.3 L446.3,266.5 L446.9,266.0 L447.1,264.5 L447.1,261.9 L447.7,261.1 L447.7,259.7 L447.7,257.6 L447.9,256.6 L447.9,254.6 L448.4,253.1 L449.0,252.3 L448.8,251.1 L449.0,249.6 L448.7,250.3 L449.6,252.7 L449.5,253.7 L449.9,255.5 L450.1,257.6 L450.3,258.9 L450.3,259.8 L450.3,261.6 L450.4,263.5 L450.9,263.5 L450.9,266.1 L450.9,268.1 L451.0,268.8 L450.7,267.1 L451.1,266.5 L451.0,264.1 L451.1,262.9 L451.6,261.3 L451.5,260.0 L451.3,257.1 L452.2,256.8 L452.3,254.0 L451.8,253.3 L452.5,250.4 L452.9,249.7 L452.5,248.1 L454.1,248.1 L453.7,249.6 L454.1,250.4 L454.7,253.7 L454.1,254.3 L454.3,256.3 L454.3,257.2 L454.6,259.1 L454.8,260.9 L455.4,263.2 L455.4,264.5 L454.9,265.0 L455.2,267.3 L455.4,268.3 L455.9,269.8 L455.0,271.0 L455.6,273.4 L455.5,272.3 L456.3,269.4 L455.9,268.3 L456.6,268.0 L456.3,264.9 L457.1,265.1 L457.1,262.6 L457.3,261.6 L457.2,259.1 L457.4,258.4 L457.4,256.8 L457.4,255.9 L457.7,252.9 L458.6,252.8 L458.7,251.0 L458.8,249.5 L458.7,247.3 L458.9,248.0 L459.2,251.0 L459.4,251.0 L458.8,253.9 L459.3,255.8 L460.0,256.4 L459.8,258.4 L460.0,259.3 L460.1,260.3 L460.5,263.1 L460.2,264.2 L460.9,265.6 L460.7,267.2 L461.5,268.9 L461.7,270.3 L462.0,268.1 L463.0,267.3 L463.7,266.5 L463.8,264.5 L464.2,264.1 L465.1,262.6 L464.5,261.6 L465.4,259.9 L465.6,258.0 L465.8,259.3 L465.7,260.2 L466.2,261.7 L466.4,265.0 L466.6,265.9 L466.9,268.2 L466.8,268.8 L467.2,271.3 L467.0,270.9 L467.3,273.7 L467.7,275.1 L467.3,275.5 L468.0,278.2 L468.2,279.7 L468.3,281.6 L468.5,282.5 L468.6,283.9 L468.3,285.6 L468.0,286.7 L468.5,289.5 L468.7,289.5 L469.1,290.5 L468.9,292.5 L468.9,294.4 L469.4,295.6 L470.3,296.6 L471.4,296.4 L471.3,295.8 L471.3,293.4 L471.4,290.8 L471.6,291.0 L471.7,288.7 L472.0,286.7 L472.1,284.8 L472.0,283.7 L472.6,283.1 L472.6,281.2 L472.9,280.0 L472.2,277.2 L473.0,277.1 L473.3,275.5 L472.9,273.4 L472.7,275.1 L473.3,276.7 L472.9,278.9 L473.4,279.1 L473.9,280.8 L473.1,282.9 L473.4,283.5 L473.6,285.9 L473.7,287.5 L474.4,289.7 L474.5,291.1 L474.0,292.4 L473.9,293.5 L474.4,294.8 L474.5,293.0 L475.9,292.0 L476.0,291.8 L476.3,290.3 L475.7,289.3 L475.8,287.9 L476.7,285.6 L476.4,283.2 L476.8,281.7 L476.7,281.9 L476.9,278.7 L477.1,278.4 L476.8,277.0 L477.0,274.9 L477.4,276.3 L477.6,277.5 L477.6,280.3 L477.9,281.6 L478.2,282.0 L478.6,284.1 L478.3,283.5 L479.2,282.0 L479.2,278.6 L478.9,277.1 L479.5,276.7 L480.1,274.5 L479.5,272.8 L479.6,270.9 L480.1,270.3 L480.5,269.0 L480.7,268.9 L481.1,267.5 L481.6,265.7 L482.2,263.7 L482.2,263.4 L483.2,261.9 L483.6,262.5 L483.5,264.4 L483.6,267.2 L483.7,267.5 L483.2,270.5 L484.0,271.9 L483.7,271.7 L483.6,275.0 L483.4,275.3 L483.4,278.0 L483.9,278.7 L484.0,276.5 L484.1,275.3 L484.3,274.7 L484.7,272.2 L484.7,270.7 L484.8,270.7 L484.8,269.3 L485.2,267.3 L485.7,267.4 L486.7,268.0 L487.1,265.5 L487.1,265.0 L487.4,264.3 L487.5,261.3 L487.2,260.3 L487.4,258.9 L487.4,257.7 L487.8,254.8 L487.7,255.1 L488.6,253.4 L488.3,252.1 L488.5,249.6 L489.0,249.3 L490.1,248.1 L490.7,246.0 L490.0,244.5 L490.3,244.4 L491.1,242.3 L490.8,241.2 L491.0,238.8 L491.6,238.1 L492.0,239.8 L492.5,241.5 L492.2,241.8 L492.5,243.6 L493.1,245.0 L493.3,244.7 L494.5,243.6 L495.0,241.9 L495.4,244.3 L496.1,245.6 L496.5,246.0 L496.4,247.2 L497.0,249.6 L497.3,251.1 L497.7,252.2 L497.2,254.9 L497.8,256.2 L497.9,258.1 L497.4,259.0 L497.2,260.7 L498.2,261.9 L497.5,263.5 L497.6,264.9 L497.7,266.3 L498.5,268.5 L498.6,269.5 L498.3,270.2 L498.8,272.8 L498.5,273.4 L498.7,274.8 L498.8,277.2 L498.5,274.9 L499.0,273.6 L499.5,273.0 L499.6,271.5 L499.0,269.5 L499.8,268.6 L499.7,267.2 L499.2,264.9 L499.7,264.7 L500.4,262.8 L500.0,261.1 L500.0,258.9 L500.6,258.4 L500.8,257.2 L501.5,255.1 L501.1,253.2 L501.2,253.3 L502.4,250.4 L502.3,249.6 L502.0,248.3 L502.4,246.9 L503.2,245.7 L502.7,243.9 L502.8,242.8 L502.9,241.6 L503.5,240.1 L503.3,238.8 L503.7,235.9 L503.9,234.6 L503.9,233.5 L503.7,234.0 L504.5,235.8 L504.2,238.3 L504.6,239.7 L504.9,240.3 L505.9,242.7 L505.7,243.5 L506.4,245.6 L506.6,246.6 L507.0,247.1 L507.2,248.1 L507.6,246.8 L508.3,245.5 L508.8,245.0 L509.3,247.1 L509.8,247.1 L509.4,248.7 L510.3,250.4 L510.6,249.6 L511.0,247.6 L511.4,246.2 L511.8,244.9 L512.0,242.8 L512.3,241.9 L512.9,241.0 L514.3,240.4 L515.0,240.1 L514.8,238.2 L515.4,236.9 L515.8,235.8 L515.7,234.8 L515.8,232.2 L516.2,230.6 L516.3,228.8 L516.8,227.5 L517.1,226.8 L517.2,225.1 L517.6,226.6 L517.9,227.7 L518.0,230.0 L518.0,231.7 L518.7,233.7 L518.9,234.3 L519.3,235.9 L519.8,236.9 L519.7,238.7 L520.3,240.8 L520.4,241.9 L520.6,241.8 L521.9,239.9 L521.9,238.9 L522.7,237.6 L522.4,235.0 L522.4,234.4 L523.2,232.7 L523.5,234.5 L523.6,235.7 L523.6,237.5 L523.6,239.0 L523.7,240.5 L523.2,242.3 L523.8,243.3 L524.2,245.0 L523.4,246.5 L523.7,247.4 L524.3,248.9 L524.2,250.5 L524.0,253.6 L524.1,254.2 L523.8,256.3 L523.7,258.0 L524.7,258.3 L524.5,259.8 L524.1,261.0 L524.5,262.7 L524.6,264.9 L524.4,265.8 L524.8,267.4 L525.3,269.0 L524.9,271.2 L525.3,271.4 L525.3,274.1 L524.9,275.2 L525.5,276.0 L525.6,278.0 L525.4,279.0 L525.8,280.9 L526.1,282.1 L526.3,284.1 L526.6,286.3 L526.2,288.1 L526.6,288.4 L526.5,290.7 L526.8,291.8 L527.0,293.7 L527.1,295.6 L527.4,297.1 L527.8,297.7 L528.2,299.5 L528.4,301.0 L528.6,302.6 L529.1,304.5 L528.4,306.5 L528.4,306.2 L529.3,308.2 L528.7,309.5 L529.3,312.4 L528.9,312.6 L529.0,313.9 L529.5,316.3 L530.2,318.1 L529.9,319.3 L530.7,318.5 L531.1,317.7 L531.1,316.3 L531.0,314.5 L531.4,312.4 L531.9,311.7 L531.3,310.1 L532.0,308.2 L531.9,306.3 L531.7,304.9 L532.1,304.4 L532.2,302.5 L532.1,304.4 L532.5,306.1 L533.1,306.8 L533.2,308.5 L532.8,309.5 L532.5,312.0 L532.6,312.3 L532.7,314.8 L533.3,316.3 L533.1,317.3 L533.8,319.2 L533.3,321.2 L534.3,322.7 L533.8,324.0 L534.2,326.2 L534.4,326.5 L534.5,327.7 L534.0,330.1 L534.5,331.6 L534.6,333.3 L535.1,335.6 L535.6,336.8 L536.0,337.7 L536.7,339.2 L536.7,340.8 L536.5,341.6 L537.0,344.7 L537.2,345.0 L537.3,346.9 L537.4,348.2 L537.4,350.5 L537.2,351.5 L537.8,352.3 L538.2,354.1 L538.0,355.6 L538.3,357.5 L538.3,359.2 L538.6,360.4 L538.8,362.1 L538.2,363.4 L538.4,364.4 L539.2,366.2 L538.8,367.7 L539.6,368.0 L540.1,368.9 L540.6,370.7 L540.5,368.6 L540.4,368.7 L541.5,366.2 L540.7,365.5 L541.4,362.8 L541.4,362.2 L542.0,359.8 L541.9,359.7 L542.8,357.1 L542.9,356.1 L543.0,358.2 L543.1,359.1 L542.8,359.6 L542.8,362.0 L543.3,363.3 L543.4,365.0 L543.4,366.1 L543.7,367.8 L543.4,369.2 L543.9,371.7 L544.1,372.8 L544.1,373.9 L543.8,374.5 L544.4,376.3 L544.5,378.5 L544.7,379.8 L544.5,381.1 L544.9,383.0 L545.3,385.3 L545.1,385.7 L545.4,387.4 L545.7,389.6 L546.1,391.3 L546.2,393.1 L546.1,393.6 L546.3,395.2 L546.6,396.3 L547.0,397.9 L546.9,399.5 L546.9,399.9 L547.0,402.3 L547.8,403.0 L547.5,405.2 L548.1,404.7 L548.2,401.9 L547.6,401.6 L547.8,399.0 L548.8,398.3 L548.9,397.2 L548.4,395.1 L548.5,393.4 L549.1,392.2 L549.3,391.3 L549.3,389.4 L549.4,387.1 L549.5,386.2 L550.2,384.9 L550.3,383.9 L550.6,381.4 L551.2,380.6 L551.7,378.8 L551.7,378.4 L551.7,380.0 L552.2,382.4 L552.5,382.1 L553.0,384.4 L552.5,386.6 L553.1,388.3 L553.2,389.1 L553.6,390.2 L553.9,392.1 L554.2,393.9 L554.7,395.2 L554.9,396.0 L555.4,396.8 L556.3,399.1 L556.5,398.1 L556.5,397.0 L556.9,395.1 L556.7,394.2 L557.0,392.6 L557.1,391.4 L557.5,389.1 L557.8,386.9 L558.0,385.4 L557.8,384.3 L557.9,382.7 L557.9,381.2 L558.0,380.5 L558.4,378.8 L558.7,376.9 L558.9,376.3 L559.6,374.2 L559.8,373.1 L560.2,370.6 L560.1,368.3 L560.2,367.7 L560.6,366.0 L561.3,364.0 L561.9,362.7 L562.1,362.2 L562.5,361.2 L563.4,360.5 L563.6,359.2 L563.5,358.0 L563.8,356.4 L564.1,355.5 L564.4,352.6 L564.4,352.4 L564.8,350.0 L564.9,351.0 L565.4,353.4 L566.0,353.7 L565.7,356.6 L566.1,358.0 L566.4,359.2 L566.8,359.8 L566.4,361.3 L566.8,362.7 L567.0,364.0 L567.4,366.1 L567.2,367.6 L568.2,368.3 L567.8,370.8 L568.0,371.0 L568.7,372.7 L569.0,374.6 L569.4,373.0 L569.2,371.2 L568.8,370.6 L569.2,369.1 L569.1,366.7 L569.6,364.6 L569.2,364.7 L569.7,362.2 L570.4,364.6 L570.2,365.4 L570.4,366.3 L570.5,367.7 L570.3,366.5 L570.6,365.1 L570.3,362.9 L570.5,362.4 L571.0,360.0 L571.4,359.0 L571.0,357.3 L571.3,356.1 L570.9,353.7 L571.1,354.0 L572.0,351.6 L572.2,350.1 L572.1,347.7 L571.9,347.1 L572.0,345.7 L572.1,344.2 L572.1,342.3 L572.5,340.8 L572.5,339.3 L572.2,337.2 L573.0,335.5 L572.8,335.7 L573.1,333.6 L573.3,332.5 L573.0,329.9 L573.5,327.6 L573.3,326.6 L573.5,325.9 L573.8,324.0 L573.6,322.4 L573.9,320.0 L574.0,320.2 L574.1,317.8 L574.1,316.1 L573.9,314.1 L574.7,313.3 L574.0,311.9 L574.6,310.2 L575.9,309.4 L576.4,311.1 L575.9,313.1 L576.1,313.7 L576.5,314.4 L576.5,315.9 L576.6,317.0 L577.1,319.3 L577.5,321.1 L577.5,323.0 L577.9,323.4 L578.7,325.2 L578.6,326.2 L578.7,325.3 L579.1,322.9 L578.6,322.3 L579.4,320.6 L578.9,319.4 L579.1,318.1 L579.7,316.3 L579.3,314.3 L580.1,312.3 L579.6,311.4 L580.2,310.2 L580.7,311.9 L580.2,312.2 L580.9,315.2 L580.9,315.4 L581.1,316.5 L580.7,318.6 L581.6,319.5 L580.9,322.3 L581.7,322.9 L581.1,325.5 L581.7,326.2 L582.3,325.6 L582.0,322.5 L582.3,322.2 L582.5,321.0 L582.3,320.0 L582.4,317.5 L582.7,316.7 L582.7,315.5 L582.8,313.2 L582.8,312.5 L583.6,309.8 L582.9,308.8 L583.8,308.0 L583.9,306.0 L584.3,303.4 L584.3,302.5 L584.6,300.8 L584.4,299.0 L584.7,298.4 L585.0,296.0 L584.7,295.4 L585.6,294.0 L585.8,290.9 L585.4,290.2 L585.8,288.7 L585.8,287.8 L585.9,284.7 L586.3,283.2 L586.0,282.8 L586.8,281.1 L586.4,279.6 L587.0,277.6 L586.9,275.8 L587.4,274.9 L587.7,273.5 L588.2,273.0 L588.3,271.7 L588.9,270.3 L588.8,269.3 L588.9,267.4 L589.7,266.3 L589.6,265.0 L590.3,263.2 L589.8,260.7 L590.1,259.6 L591.2,259.5 L591.4,260.4 L591.1,261.8 L591.5,264.2 L592.0,265.3 L592.5,267.6 L592.4,268.0 L592.5,268.8 L593.0,271.1 L592.9,270.4 L593.3,267.3 L594.2,266.6 L594.2,265.3 L594.6,263.1 L594.3,262.8 L594.6,261.1 L594.2,260.6 L594.6,258.7 L594.4,256.1 L594.5,256.1 L595.0,254.2 L595.7,253.5 L595.5,250.3 L596.0,249.6 L596.2,248.3 L596.2,245.9 L596.0,244.2 L596.6,243.5 L596.6,241.5 L597.3,239.5 L597.2,238.1 L596.7,238.2 L597.0,236.0 L597.5,234.1 L597.4,232.0 L597.9,230.9 L597.9,230.3 L597.5,228.0 L598.1,226.6 L598.2,226.1 L598.6,223.2 L598.7,221.5 L599.0,220.2 L599.2,219.7 L599.2,221.1 L600.0,221.8 L600.4,223.4 L600.7,225.1 L601.0,222.6 L601.3,221.9 L600.7,220.1 L601.3,218.1 L601.7,216.9 L601.3,215.0 L601.5,215.3 L601.3,212.2 L601.8,211.6 L601.5,209.2 L602.1,207.7 L601.6,207.1 L602.2,205.2 L603.0,207.3 L603.3,207.6 L603.2,210.0 L603.8,211.3 L603.9,210.1 L604.0,207.8 L603.7,206.0 L603.6,205.6 L603.7,204.7 L604.7,201.8 L604.8,201.3 L603.9,199.3 L604.3,197.7 L604.1,196.1 L604.1,195.0 L604.7,193.7 L604.8,194.7 L605.3,197.6 L605.0,199.0 L604.9,200.5 L605.5,201.3 L605.5,202.9 L605.1,204.6 L605.1,206.8 L605.3,207.9 L606.0,209.7 L606.2,211.5 L606.1,213.1 L606.2,215.1 L606.2,216.2 L606.2,217.4 L606.4,215.9 L607.0,213.9 L606.4,212.8 L606.6,211.7 L607.1,208.8 L606.8,208.5 L607.2,207.0 L607.4,204.4 L607.8,204.6 L607.7,202.1 L607.4,203.9 L607.9,205.5 L607.9,206.9 L608.4,209.2 L607.9,210.7 L608.2,212.2 L608.6,212.3 L607.8,214.3 L608.5,217.2 L608.0,217.9 L608.7,220.0 L608.4,221.9 L608.8,221.9 L608.9,223.9 L608.6,226.4 L608.3,227.1 L609.0,229.6 L609.1,229.8 L608.8,232.7 L609.2,234.3 L608.6,234.6 L608.5,236.5 L608.9,238.2 L608.6,239.3 L609.2,242.4 L608.6,243.4 L609.5,244.7 L609.1,246.5 L609.2,245.6 L608.7,244.1 L609.5,242.3 L609.1,240.2 L609.7,237.8 L608.9,237.4 L609.8,234.8 L609.0,233.9 L609.7,232.5 L609.6,229.9 L609.1,229.4 L609.7,226.9 L609.1,225.8 L609.4,224.2 L609.2,222.1 L609.7,222.3 L609.7,220.7 L609.3,218.5 L609.5,217.4 L609.8,215.4 L610.1,214.5 L609.4,211.9 L609.4,210.6 L609.5,209.3 L609.7,206.3 L610.3,205.0 L609.7,204.2 L609.5,203.1 L610.2,200.3 L610.1,198.7 L610.1,197.1 L609.8,196.2 L610.1,195.1 L610.5,192.9 L610.0,191.0 L610.4,189.8 L609.9,187.9 L610.1,187.6 L610.2,186.0 L610.3,183.9 L610.1,182.0 L610.3,180.6 L610.7,178.4 L610.6,177.3 L610.6,176.1 L610.7,175.1 L610.6,173.0 L611.0,171.5 L611.4,170.7 L611.9,172.5 L612.0,172.9 L611.4,174.7 L611.9,177.2 L612.3,178.7 L611.6,178.5 L612.0,180.8 L611.8,182.1 L612.0,184.6 L612.2,184.9 L612.6,186.8 L612.5,185.9 L612.7,183.6 L613.0,181.7 L614.0,181.1 L613.9,178.8 L613.9,177.6 L614.5,180.0 L614.3,180.1 L613.8,182.3 L614.4,184.4 L615.0,185.9 L614.4,187.7 L614.9,187.4 L614.6,190.8 L615.3,191.8 L615.3,191.9 L615.7,194.0 L615.4,196.0 L615.8,197.6 L615.7,199.1 L616.3,201.2 L615.9,202.8 L615.8,203.3 L616.1,204.2 L616.4,205.7 L617.1,208.9 L616.8,208.9 L616.9,211.3 L617.5,210.7 L618.5,209.0 L618.4,209.6 L618.7,212.1 L618.5,213.1 L619.1,215.3 L619.1,217.3 L619.1,218.3 L619.1,220.1 L619.7,220.1 L620.2,223.0 L619.6,224.4 L620.6,224.8 L620.3,226.6 L620.8,228.5 L620.7,229.3 L620.6,231.7 L621.3,233.4 L620.8,234.1 L621.6,234.9 L621.1,237.7 L622.0,238.8 L621.7,239.7 L622.4,240.5 L622.5,243.2 L622.4,245.2 L622.6,245.8 L622.9,245.1 L622.6,242.6 L622.9,241.3 L623.6,240.8 L623.9,239.1 L624.1,237.4 L624.1,234.6 L623.9,233.9 L623.8,233.3 L624.2,230.5 L624.1,229.6 L624.6,229.0 L624.9,226.6 L625.2,224.9 L624.9,222.6 L625.5,222.2 L625.5,220.5 L625.6,219.8 L625.4,216.9 L626.3,215.5 L626.0,214.2 L626.1,213.3 L626.0,211.4 L626.8,209.4 L627.0,207.9 L627.0,205.9 L626.9,205.3 L627.2,203.6 L627.4,202.0 L626.9,200.6 L627.8,198.6 L627.2,197.7 L627.3,195.2 L627.2,194.7 L628.1,193.4 L627.9,192.1 L628.2,189.4 L627.8,189.3 L628.4,187.1 L628.2,184.9 L627.7,183.4 L627.9,182.4 L628.3,180.6 L628.6,179.5 L629.0,176.8 L628.4,175.5 L628.8,175.7 L629.0,174.1 L628.9,171.7 L629.6,170.2 L629.5,169.2 L629.8,170.9 L629.8,171.4 L629.6,174.8 L629.7,175.0 L630.4,177.2 L630.1,178.5 L630.2,179.9 L629.9,181.3 L629.9,183.7 L629.8,184.1 L630.3,187.4 L630.7,188.3 L630.7,189.0 L630.6,190.2 L630.7,191.8 L630.3,193.5 L630.6,195.8 L630.6,196.6 L630.6,199.9 L631.0,200.6 L631.9,199.9 L631.5,196.9 L632.3,196.0 L632.8,193.6 L632.3,193.4 L633.3,192.5 L633.4,189.9 L633.4,189.7 L633.8,188.3 L633.9,186.5 L633.8,184.5 L634.1,185.8 L634.1,188.2 L634.2,187.9 L634.2,191.0 L634.5,191.7 L634.9,193.7 L634.3,195.1 L635.0,195.1 L635.2,197.4 L634.9,199.0 L635.3,199.6 L634.8,201.7 L634.8,203.9 L635.5,205.5 L635.6,205.9 L635.1,208.0 L635.7,210.2 L636.0,212.0 L635.6,213.3 L635.9,214.4 L635.9,216.6 L636.1,216.7 L635.4,219.4 L635.9,220.5 L636.4,218.3 L636.5,217.8 L635.9,215.0 L636.6,214.4 L636.2,213.3 L636.4,211.6 L637.2,208.6 L637.1,207.8 L637.4,206.0 L637.0,204.0 L637.6,202.6 L637.8,200.5 L637.5,199.8 L638.0,200.3 L637.9,203.6 L637.6,204.4 L637.8,204.8 L638.3,207.1 L638.4,207.7 L637.8,209.5 L638.6,210.6 L637.9,212.8 L638.4,215.2 L638.9,215.4 L638.7,217.4 L639.2,218.7 L639.5,220.8 L639.0,221.9 L639.6,223.5 L640.0,225.5 L640.2,226.6 L640.2,225.1 L640.8,223.9 L640.3,221.3 L640.5,221.4 L640.7,219.7 L641.4,217.8 L641.0,216.4 L641.2,215.3 L641.4,213.1 L641.7,211.5 L641.3,209.9 L641.8,208.2 L642.0,207.0 L642.6,204.6 L642.5,203.1 L643.0,202.1 L643.7,200.5 L643.5,200.0 L644.1,198.2 L644.1,195.2 L644.4,194.4 L644.4,195.1 L644.6,197.4 L644.8,200.0 L645.0,199.9 L644.8,202.5 L645.3,203.4 L645.4,205.0 L645.6,206.7 L646.5,207.6 L647.1,208.2 L646.8,206.8 L647.1,205.5 L647.4,204.4 L648.1,202.9 L647.8,201.0 L647.4,200.0 L647.6,197.9 L648.2,196.2 L648.2,195.2 L648.6,196.9 L648.8,197.4 L648.4,199.6 L648.6,201.8 L648.7,204.0 L648.7,204.5 L649.0,206.4 L648.7,208.7 L648.7,208.6 L649.1,211.9 L649.5,213.3 L649.3,214.3 L649.1,215.2 L649.4,217.4 L649.4,216.5 L649.6,215.3 L649.9,212.9 L649.8,211.1 L650.2,210.4 L649.5,209.0 L650.1,206.4 L650.2,205.0 L650.2,203.6 L650.3,202.9 L650.6,200.5 L650.2,199.5 L650.5,196.7 L650.4,195.5 L650.5,194.4 L651.1,192.2 L651.1,190.9 L651.5,190.0 L652.2,188.3 L652.6,187.1 L652.5,185.8 L652.3,183.6 L652.7,181.6 L652.8,181.5 L653.0,178.2 L653.2,177.0 L652.5,176.3 L652.8,173.9 L653.1,173.1 L653.1,171.5 L653.3,170.5 L653.2,168.4 L653.7,167.4 L654.0,165.5 L654.0,163.4 L653.6,162.7 L654.4,160.8 L654.5,160.0 L655.0,161.0 L654.7,162.8 L655.3,163.7 L654.7,166.1 L654.9,167.0 L654.8,169.6 L655.2,170.4 L655.1,172.6 L655.1,173.6 L655.2,174.7 L655.6,177.0 L655.8,177.6 L655.9,179.7 L655.6,180.0 L656.6,181.7 L655.8,183.0 L656.2,185.0 L656.3,186.0 L656.5,187.8 L656.3,189.4 L656.8,190.9 L657.1,192.2 L656.7,194.6 L657.1,195.2 L656.8,193.3 L657.3,192.1 L657.2,191.5 L657.4,189.4 L657.9,187.1 L657.8,185.7 L658.1,185.4 L658.5,184.4 L657.9,182.0 L658.6,180.3 L658.6,179.1 L659.4,180.6 L659.7,181.3 L659.6,184.1 L660.1,185.2 L660.6,183.7 L660.7,182.7 L660.4,181.1 L660.6,178.3 L661.0,178.3 L661.1,175.5 L661.1,173.6 L661.0,172.6 L661.1,171.2 L661.2,169.8 L661.5,168.7 L661.4,166.9 L661.3,167.8 L661.4,169.6 L661.7,171.5 L662.2,173.9 L661.8,174.1 L662.2,175.1 L662.5,176.7 L662.6,179.3 L662.5,181.6 L662.6,181.2 L662.9,183.7 L662.8,184.6 L663.7,186.9 L663.7,188.6 L663.8,188.7 L664.4,190.6 L664.6,192.1 L665.0,193.1 L665.2,195.3 L665.2,196.6 L664.8,198.0 L665.7,198.4 L665.2,200.5 L665.3,202.8 L665.8,203.0 L666.0,206.0 L666.0,206.7 L665.8,207.3 L666.7,210.5 L666.9,211.3 L667.1,212.9 L667.5,214.3 L668.0,216.0 L667.9,217.2 L668.1,219.3 L667.9,219.8 L667.7,222.6 L668.2,222.3 L668.1,224.5 L668.3,225.7 L668.7,227.5 L668.7,228.6 L668.9,230.6 L668.6,232.0 L668.8,230.4 L669.4,229.2 L669.2,227.4 L669.3,225.8 L669.5,224.3 L669.3,223.1 L669.4,222.2 L670.1,220.5 L670.1,222.4 L670.7,222.3 L671.3,223.5 L671.6,225.1 L672.3,223.1 L672.9,221.1 L672.9,220.5 L672.6,219.7 L673.3,216.9 L673.5,215.6 L673.5,213.9 L673.7,213.1 L674.1,210.8 L674.0,209.9 L674.5,208.2 L674.2,206.7 L674.7,209.1 L674.3,209.6 L674.9,211.4 L674.5,213.4 L674.7,214.4 L674.8,215.4 L674.6,216.4 L675.0,219.6 L675.0,221.4 L675.1,221.2 L674.8,224.4 L674.6,225.8 L675.4,225.9 L674.8,228.6 L675.4,228.7 L675.3,230.6 L675.7,232.8 L674.9,234.1 L675.5,235.8 L675.3,238.1 L676.6,239.3 L676.1,241.3 L677.0,241.9 L677.0,240.7 L677.8,239.0 L677.4,236.8 L678.3,235.0 L678.2,235.1 L678.5,232.0 L678.8,231.2 L679.1,232.4 L679.3,234.0 L679.5,236.4 L678.9,237.4 L679.3,238.1 L679.9,240.1 L679.7,241.0 L680.1,244.4 L679.9,244.3 L680.0,246.5 L679.9,247.5 L680.1,249.6 L679.8,251.7 L680.3,253.0 L680.5,253.8 L680.4,255.1 L680.5,256.8 L680.7,258.0 L680.4,259.1 L680.1,260.8 L680.1,262.7 L680.6,265.1 L680.3,266.8 L680.8,267.3 L680.6,269.4 L681.1,269.8 L681.5,271.6 L681.1,272.6 L682.0,275.4 L682.5,276.0 L682.4,277.7 L682.4,279.5 L682.5,280.6 L682.6,283.4 L682.6,284.0 L683.4,285.5 L683.5,287.2 L683.2,289.1 L683.7,290.0 L684.2,291.0 L683.9,293.3 L684.4,295.3 L684.5,296.3 L684.7,297.0 L684.8,300.2 L684.7,301.4 L685.2,302.5 L685.5,304.0 L685.4,305.6 L685.2,307.1 L686.0,308.0 L685.9,310.8 L685.6,312.4 L686.1,312.9 L686.6,314.9 L686.4,315.6 L686.7,318.6 L686.9,319.3 L687.7,321.3 L687.6,322.8 L688.0,323.3 L687.5,326.2 L688.0,327.0 L688.2,328.3 L689.3,330.4 L690.0,330.8 L690.3,331.7 L690.0,333.7 L690.6,335.1 L690.9,335.7 L690.8,338.7 L690.9,338.8 L691.0,341.8 L691.5,342.3 L692.1,343.7 L691.7,345.1 L692.4,347.7 L692.6,349.2 L692.5,349.2 L692.9,350.9 L692.6,353.1 L692.9,354.2 L692.2,356.3 L692.4,358.2 L692.3,359.3 L692.6,359.5 L692.4,361.5 L692.9,363.9 L693.1,364.1 L692.3,366.0 L692.4,367.1 L692.6,369.2 L693.1,369.7 L693.0,371.5 L693.0,373.4 L693.3,376.2 L693.8,376.7 L694.3,377.9 L693.6,380.2 L694.1,381.4 L694.5,380.4 L694.4,378.9 L694.3,377.9 L694.9,376.1 L694.8,374.9 L694.8,373.5 L694.9,372.0 L694.9,369.7 L695.3,368.3 L695.7,367.4 L695.1,365.6 L695.6,363.5 L695.7,362.2 L695.3,364.5 L696.2,365.5 L695.8,365.6 L695.5,367.5 L695.7,369.2 L695.3,367.4 L695.7,365.9 L695.5,363.7 L696.4,363.0 L695.8,361.2 L696.0,359.7 L695.9,358.6 L696.7,356.8 L696.8,355.6 L696.5,353.4 L696.7,351.5 L696.2,350.1 L697.0,349.0 L696.3,347.7 L696.4,345.5 L696.9,343.9 L696.8,342.1 L697.0,341.3 L697.7,340.4 L697.7,337.4 L697.5,336.0 L698.1,335.4 L698.1,336.2 L698.5,337.5 L699.4,339.3 L699.3,341.5 L699.7,342.3 L700.0,342.3 L699.7,343.8 L699.7,345.3 L700.6,347.0 L700.1,348.7 L700.3,349.9 L700.5,351.9 L700.9,354.0 L701.0,355.2 L700.8,356.7 L700.4,357.0 L701.1,359.0 L700.3,361.2 L700.9,362.2 L700.7,361.0 L701.2,360.6 L701.9,358.5 L702.1,357.1 L702.3,355.9 L702.3,354.6 L702.8,356.0 L702.9,354.9 L703.2,352.4 L703.3,350.8 L703.0,350.5 L703.0,348.2 L703.1,347.1 L703.2,345.1 L704.2,343.7 L703.8,341.4 L703.7,340.0 L704.1,338.6 L703.8,337.0 L704.3,336.2 L704.3,336.1 L704.7,338.0 L704.4,338.8 L704.5,340.8 L704.9,341.5 L704.6,344.1 L704.9,345.7 L704.9,346.1 L705.0,349.2 L705.6,349.0 L705.5,351.8 L705.8,353.1 L705.8,353.0 L705.8,355.2 L705.9,356.1 L706.8,357.0 L707.5,359.3 L707.3,360.7 L707.4,360.6 L707.1,359.6 L707.0,358.0 L707.9,356.3 L707.1,353.7 L708.0,353.7 L707.5,352.4 L708.1,349.2 L708.3,347.5 L708.0,346.9 L708.4,346.9 L708.5,344.8 L708.9,343.9 L708.6,342.3 L708.5,341.7 L708.7,339.6 L708.9,338.6 L709.2,336.2 L709.4,334.8 L709.2,332.5 L709.6,331.9 L709.3,331.0 L709.3,329.0 L709.1,326.7 L709.6,325.0 L709.5,323.9 L709.9,323.9 L710.5,323.4 L710.3,321.3 L710.0,319.9 L710.7,317.7 L710.5,316.6 L710.2,313.8 L710.3,313.3 L710.8,312.4 L710.5,309.5 L710.8,308.0 L710.7,307.1 L711.0,305.6 L711.5,307.1 L711.7,304.8 L711.3,304.0 L711.7,301.8 L711.9,301.1 L712.3,300.3 L712.0,297.1 L712.0,295.9 L711.8,294.0 L712.3,293.6 L711.9,291.2 L712.7,290.3 L712.5,288.2 L712.8,287.6 L712.4,284.9 L712.4,283.2 L712.6,282.6 L712.5,284.7 L713.0,285.6 L712.7,283.5 L713.0,283.5 L712.9,280.9 L713.3,278.6 L713.4,277.1 L713.3,276.1 L714.0,274.8 L713.4,273.0 L713.5,271.2 L713.5,270.7 L713.7,268.2 L713.4,267.8 L713.7,265.3 L714.4,265.1 L714.1,262.7 L714.5,262.7 L714.6,260.2 L714.9,260.0 L714.1,257.5 L715.0,256.3 L714.3,255.7 L714.4,252.5 L714.9,252.6 L715.0,249.1 L714.3,247.9 L715.0,247.8 L714.5,245.6 L715.0,242.8 L715.3,241.7 L714.8,241.1 L715.0,239.2 L714.5,237.6 L715.0,235.8 L714.7,234.9 L715.4,233.0 L715.4,232.2 L715.7,230.1 L715.3,227.2 L716.0,225.7 L715.1,225.3 L716.1,223.4 L715.4,221.0 L715.4,220.2 L715.7,218.5 L716.3,218.4 L716.5,215.3 L716.1,214.3 L716.4,212.1 L716.2,211.3 L716.2,210.3 L716.2,208.8 L716.8,206.9 L716.2,204.4 L717.0,204.5 L716.5,202.4 L717.1,201.3 L716.6,198.4 L716.6,197.9 L717.2,196.0 L717.4,195.3 L717.6,194.2 L718.4,192.9 L718.8,193.5 L719.6,194.4 L719.9,193.9 L719.6,192.2 L719.6,189.5 L720.4,187.9 L720.7,188.1 L720.2,186.3 L720.7,184.5 L721.0,186.9 L720.9,187.1 L721.5,188.3 L721.6,189.9 L721.3,192.3 L721.7,192.5 L721.8,195.5 L721.8,196.0 L721.8,197.6 L722.1,199.5 L722.0,200.3 L721.8,202.3 L722.1,204.2 L721.9,205.7 L722.1,207.4 L722.9,207.9 L722.3,209.2 L722.5,212.2 L723.2,211.9 L723.0,214.3 L722.6,216.0 L723.2,217.5 L723.7,219.6 L723.1,221.4 L723.5,221.9 L723.3,223.0 L723.4,224.6 L723.9,226.1 L723.8,227.4 L723.7,230.5 L724.2,231.2 L724.4,229.6 L724.4,229.1 L724.5,227.2 L725.3,225.1 L725.2,223.6 L726.0,222.9 L726.4,222.0 L726.7,220.7 L726.9,218.3 L726.7,217.3 L727.0,216.2 L726.8,214.2 L727.0,212.6 L727.6,212.0 L727.9,214.4 L728.0,214.3 L728.1,216.3 L728.0,218.4 L728.1,218.8 L728.0,220.2 L729.1,222.1 L728.8,223.5 L729.2,225.1 L729.0,226.3 L729.4,227.8 L729.6,228.7 L729.7,230.4 L730.0,232.7 L730.2,234.3 L730.8,236.5 L731.0,237.2 L730.6,239.6 L730.6,240.2 L730.8,242.6 L731.4,243.5 L731.7,245.8 L731.3,247.1 L731.9,248.0 L731.7,250.0 L731.8,251.7 L732.3,252.1 L732.0,253.7 L732.5,256.0 L732.1,256.5 L732.1,258.6 L732.5,259.9 L732.4,261.5 L732.5,262.7 L732.2,264.1 L733.1,266.2 L733.4,266.7 L733.7,269.7 L733.6,271.0 L733.3,271.2 L733.5,273.5 L734.0,274.9 L734.7,276.1 L734.9,278.6 L734.3,278.6 L735.5,281.0 L735.5,283.3 L735.3,283.1 L736.1,286.5 L736.0,287.2 L736.3,289.0 L736.3,291.1 L737.3,292.7 L737.8,293.0 L738.0,294.8 L738.0,296.3 L739.0,297.7 L739.0,298.5 L738.9,299.9 L739.3,301.8 L739.8,303.3 L740.5,301.4 L740.1,300.9 L741.0,298.5 L740.7,297.5 L740.7,295.4 L741.4,294.8 L741.6,292.8 L741.5,292.4 L742.0,290.4 L742.3,289.2 L742.8,288.1 L742.6,285.6 L742.4,284.6 L742.4,281.8 L742.8,280.3 L742.9,279.0 L743.7,278.6 L743.5,276.5 L743.9,275.1 L743.4,273.3 L743.7,271.8 L744.1,270.3 L744.7,271.2 L744.2,273.4 L744.7,274.3 L744.6,276.2 L745.3,276.7 L745.4,279.2 L745.5,280.3 L745.4,281.1 L745.1,283.8 L745.3,285.0 L745.7,286.4 L746.3,285.1 L746.1,283.6 L745.8,283.0 L746.1,279.6 L746.3,278.9 L746.2,277.5 L746.2,277.1 L746.8,274.3 L747.0,273.4 L746.9,272.4 L747.2,270.3 L747.5,269.6 L748.1,267.6 L747.8,266.1 L748.9,264.8 L748.7,262.7 L748.4,260.8 L748.4,260.1 L749.4,258.7 L749.3,256.9 L749.5,255.5 L749.7,253.2 L749.4,252.7 L749.1,251.1 L750.1,248.7 L749.8,248.1 L750.5,247.5 L751.2,246.9 L751.3,245.0 L751.8,244.2 L752.0,242.8 L752.4,241.9 L752.7,240.1 L753.2,239.0 L753.0,237.4 L753.3,235.8 L753.7,238.0 L754.0,239.3 L753.6,239.4 L753.7,241.1 L754.2,242.6 L754.4,245.0 L754.7,244.2 L755.0,243.2 L755.5,241.2 L755.5,242.6 L755.6,243.3 L756.1,244.7 L755.8,246.4 L756.6,249.2 L756.2,249.2 L756.7,251.1 L757.3,252.7 L757.3,255.0 L757.3,254.9 L757.8,257.7 L757.0,259.3 L757.8,259.2 L757.7,260.8 L757.9,262.7 L758.6,263.6 L758.3,265.7 L758.9,265.5 L759.4,267.3 L759.8,268.0 L759.8,270.2 L759.4,272.8 L760.1,272.5 L760.4,275.2 L760.5,277.0 L759.9,277.6 L760.1,280.1 L760.5,281.0 L761.2,282.7 L761.1,285.1 L761.1,285.5 L761.1,288.1 L761.1,288.1 L762.0,289.3 L761.6,291.8 L762.0,293.3 L761.9,294.6 L761.8,296.7 L761.9,297.5 L762.1,299.8 L762.3,301.1 L762.2,302.6 L762.6,304.8 L762.6,305.2 L763.4,306.2 L763.1,308.6 L763.4,307.1 L763.5,304.9 L764.0,303.1 L764.3,302.5 L764.0,303.6 L764.5,305.1 L765.0,306.9 L765.1,308.8 L765.3,311.0 L765.3,312.1 L765.5,312.4 L765.6,314.8 L766.0,316.3 L765.3,318.3 L765.9,320.2 L765.9,320.8 L766.5,323.3 L766.4,323.8 L766.2,325.9 L766.8,326.9 L766.7,328.7 L766.6,329.5 L766.6,331.6 L766.6,329.6 L767.6,327.6 L767.0,326.4 L767.8,325.8 L767.5,323.2 L768.1,322.9 L768.2,320.9 L768.3,322.8 L768.3,323.0 L768.5,326.2 L767.8,326.7 L768.7,329.5 L768.5,330.7 L767.8,332.3 L768.5,332.5 L768.2,334.6 L768.9,336.3 L769.3,337.5 L769.3,337.7 L768.9,338.6 L769.7,340.1 L769.3,342.9 L769.8,343.6 L769.5,345.7 L770.1,347.1 L769.5,347.9 L769.7,349.9 L769.8,348.6 L770.5,346.9 L770.8,347.9 L770.9,350.2 L770.8,351.6 L770.7,352.1 L770.9,354.9 L771.4,357.0 L771.2,356.9 L771.5,358.9 L771.2,360.6 L772.1,360.8 L772.0,359.2 L771.7,359.8 L771.7,362.6 L772.3,364.0 L772.2,365.5 L772.0,366.2 L772.8,367.8 L772.2,370.1 L773.2,372.2 L772.8,372.9 L773.5,374.3 L773.0,374.3 L773.8,376.0 L774.2,374.5 L774.8,372.0 L774.9,370.5 L775.1,369.8 L775.4,370.5 L775.3,373.4 L775.9,375.0 L775.8,375.6 L775.8,377.6 L775.8,379.2 L775.8,380.3 L776.3,382.4 L776.6,384.5 L776.6,384.4 L776.4,386.7 L776.8,389.0 L776.6,389.8 L776.4,387.2 L777.2,387.6 L776.9,385.4 L777.0,383.4 L777.4,382.5 L777.8,380.3 L777.6,378.9 L778.2,377.5 L777.8,376.0 L778.5,378.4 L777.9,379.6 L778.2,380.6 L779.0,381.2 L779.2,384.0 L779.4,385.2 L779.5,386.8 L779.8,387.5 L779.9,390.6 L780.5,391.4 L780.9,393.5 L780.9,394.3 L781.4,395.7 L781.4,397.1 L781.2,399.8 L781.5,400.2 L782.5,401.6 L782.4,403.5 L783.1,401.1 L782.6,400.4 L783.3,399.5 L783.8,398.1 L783.4,396.9 L784.0,394.3 L783.7,392.7 L784.2,390.3 L784.2,390.7 L785.2,387.9 L785.4,387.2 L784.6,385.4 L785.0,383.2 L785.5,382.1 L786.1,380.0 L786.1,378.0 L786.5,377.1 L787.0,376.0 L786.7,373.6 L787.1,372.1 L787.8,370.9 L787.3,369.0 L787.8,367.7 L787.2,366.5 L788.1,366.1 L787.8,363.9 L787.5,363.0 L788.3,360.1 L788.1,359.1 L788.9,359.2 L789.6,359.2 L789.6,360.6 L790.0,358.7 L790.4,357.7 L790.5,358.7 L790.6,360.2 L790.1,361.4 L790.7,363.7 L791.1,362.1 L791.0,361.0 L790.9,358.5 L791.2,358.1 L791.7,356.0 L791.7,354.1 L792.2,353.3 L791.9,351.5 L792.2,352.9 L792.0,355.1 L792.0,356.8 L791.7,358.5 L791.7,359.5 L791.6,360.9 L792.3,361.7 L791.6,364.3 L792.1,366.2 L792.1,367.9 L792.0,368.3 L791.9,370.6 L792.1,368.6 L791.6,367.4 L792.7,365.8 L792.6,364.5 L791.9,362.7 L793.0,361.4 L792.4,360.3 L792.8,358.7 L793.1,356.4 L792.8,354.8 L792.8,353.8 L792.7,352.5 L793.2,349.9 L793.1,348.3 L793.5,346.9 L793.7,345.0 L793.8,343.0 L794.1,341.5 L794.3,341.5 L794.3,339.8 L793.8,337.9 L793.8,336.7 L794.6,334.1 L794.4,332.3 L794.5,331.6 L794.7,333.5 L794.1,334.9 L795.0,335.5 L795.0,337.2 L794.1,338.4 L794.9,340.1 L795.0,342.1 L794.2,344.4 L794.7,345.3 L794.5,343.1 L794.3,341.9 L794.8,340.7 L794.9,338.4 L794.4,338.5 L794.8,336.6 L795.3,334.8 L795.2,332.5 L794.7,331.6 L795.5,331.0 L794.8,328.8 L794.9,326.7 L794.9,326.5 L795.1,323.9 L794.8,323.1 L794.8,321.5 L795.3,319.3 L795.1,320.3 L794.9,322.1 L795.9,323.6 L795.3,325.9 L795.3,327.5 L796.1,329.2 L795.2,330.6 L796.0,332.1 L795.8,333.1 L796.1,330.8 L796.4,330.2 L796.5,328.5 L796.7,330.6 L796.5,331.3 L797.1,333.9 L797.6,335.4 L797.3,336.1 L797.1,337.5 L797.5,339.1 L797.1,340.5 L798.1,342.1 L797.7,343.9 L798.4,346.2 L798.4,347.7 L799.1,347.4 L799.1,350.8 L799.3,351.4 L799.3,351.5 L799.2,349.7 L799.1,349.2 L799.5,347.1 L799.6,346.2 L799.6,344.0 L799.6,342.0 L800.2,341.1 L799.8,338.4 L800.0,336.8 L799.9,335.6 L799.9,334.1 L799.8,333.0 L799.8,331.1 L800.4,329.3 L800.6,328.4 L800.4,327.0 L800.1,329.1 L800.2,329.8 L799.9,330.9 L800.8,333.1 L800.4,334.6 L800.5,333.3 L800.3,330.9 L801.2,330.3 L800.9,329.2 L801.0,326.9 L801.7,326.2 L801.3,324.9 L801.4,321.9 L801.9,320.9 L802.1,322.5 L802.4,323.9 L802.8,325.0 L802.7,327.4 L803.0,328.5 L803.7,329.6 L803.4,331.5 L803.6,333.1 L804.2,334.6 L804.7,332.5 L804.6,332.3 L804.3,329.7 L804.0,328.6 L804.8,326.8 L804.5,325.5 L804.5,327.7 L804.6,328.7 L805.4,330.1 L805.2,331.8 L805.4,333.4 L806.1,335.2 L806.3,335.4 L806.0,338.0 L806.5,339.2 L806.5,339.3 L806.7,338.5 L806.6,335.3 L806.4,333.8 L807.0,332.8 L806.6,332.4 L806.7,329.8 L807.5,328.9 L807.1,327.9 L807.4,326.1 L807.5,324.2 L807.7,322.4 L808.3,320.0 L808.1,319.5 L808.7,318.0 L808.2,315.6 L808.6,314.1 L808.6,314.1 L808.6,311.1 L809.1,310.2 L809.4,308.7 L809.8,306.9 L809.8,305.6 L810.1,305.2 L809.5,302.7 L809.9,301.4 L810.1,300.4 L809.8,298.9 L810.3,297.1 L810.8,298.4 L810.3,299.5 L810.8,300.7 L810.5,302.6 L811.1,304.9 L811.1,305.2 L811.0,306.4 L811.8,308.7 L811.8,309.7 L811.5,311.7 L811.6,309.4 L811.9,309.0 L812.4,306.7 L812.2,305.1 L813.1,303.4 L813.1,302.5 L814.1,302.1 L813.8,299.5 L814.6,299.4 L815.0,297.0 L814.9,296.4 L814.7,295.0 L814.4,293.8 L815.3,290.8 L814.8,290.9 L814.8,288.0 L815.5,288.2 L815.8,285.0 L815.0,283.1 L815.1,282.2 L816.0,281.6 L815.3,279.3 L815.7,278.0 L815.8,275.8 L815.5,274.3 L815.8,272.5 L816.6,272.8 L816.2,270.2 L816.4,269.5 L816.4,268.1 L817.1,265.3 L816.7,264.2 L817.5,264.1 L817.9,263.1 L818.7,261.1 L819.1,263.0 L819.1,264.0 L820.0,265.1 L820.3,267.3 L820.9,268.6 L820.6,270.9 L820.4,272.3 L821.0,273.9 L820.7,274.6 L821.1,276.3 L821.1,278.1 L821.5,278.8 L821.3,281.0 L821.2,278.8 L821.7,277.4 L822.2,275.9 L821.9,275.5 L821.9,272.5 L822.0,272.3 L822.3,271.2 L822.6,268.8 L822.3,269.9 L822.7,271.5 L822.6,272.6 L822.9,275.4 L822.8,277.4 L823.1,277.7 L823.0,279.1 L822.8,281.0 L823.3,283.2 L822.9,283.2 L823.8,285.4 L823.7,287.9 L823.3,288.1 L823.9,289.8 L823.7,290.8 L823.8,293.3 L823.9,294.7 L823.6,295.8 L824.4,298.7 L823.9,299.1 L824.0,300.7 L824.1,303.4 L823.8,303.8 L824.4,305.8 L824.2,307.5 L824.4,307.9 L824.9,309.6 L824.8,312.5 L824.3,313.7 L825.0,314.4 L825.2,315.6 L824.9,317.8 L825.0,317.2 L825.2,315.5 L825.2,313.5 L825.4,312.1 L825.8,310.6 L825.9,308.1 L826.0,307.7 L825.9,305.6 L827.2,304.9 L827.9,305.6 L828.3,306.1 L829.0,308.9 L828.6,310.4 L829.0,311.8 L829.5,313.2 L830.3,315.0 L831.0,315.6 L831.0,316.3 L831.2,317.8 L831.0,318.4 L831.8,321.8 L831.9,321.8 L831.9,323.3 L831.7,326.1 L832.1,327.0 L832.7,324.5 L832.8,324.4 L832.9,321.7 L832.8,321.4 L832.9,318.7 L833.4,317.2 L833.6,316.3 L833.4,317.1 L833.4,318.5 L833.6,320.5 L833.4,321.7 L833.7,323.1 L833.6,324.5 L834.1,326.2 L833.9,327.8 L834.2,331.0 L834.2,330.7 L834.1,333.1 L834.3,333.2 L835.1,334.7 L836.4,333.8 L836.8,331.6 L836.7,331.5 L836.8,329.4 L836.4,327.9 L836.7,326.7 L836.8,325.2 L836.7,323.9 L837.2,322.6 L836.8,320.7 L837.0,320.2 L837.0,317.6 L837.6,316.5 L837.4,315.1 L837.6,312.8 L838.2,311.7 L838.2,312.4 L839.1,313.9 L839.3,316.7 L839.5,318.0 L839.3,319.2 L839.6,320.5 L839.7,322.4 L839.8,324.1 L840.8,326.4 L841.0,327.0 L841.5,328.7 L840.8,330.2 L840.9,332.3 L841.6,332.9 L841.3,335.4 L841.5,335.3 L841.8,337.5 L841.7,339.2 L841.7,340.7 L842.5,340.8 L842.3,341.7 L842.8,343.3 L842.8,345.3 L843.5,347.0 L843.3,348.4 L843.6,349.9 L844.0,350.0 L844.6,352.3 L843.8,353.6 L844.6,355.0 L844.7,356.4 L844.3,358.5 L845.0,358.6 L844.8,360.6 L845.2,359.3 L845.5,359.2 L845.3,360.9 L845.2,361.1 L845.7,363.8 L846.0,364.0 L845.4,365.7 L846.0,368.5 L845.2,369.3 L845.7,371.0 L845.5,372.3 L845.5,373.7 L845.4,371.3 L845.5,370.8 L845.7,370.1 L846.0,366.9 L846.5,366.8 L846.8,364.9 L847.2,363.9 L847.3,362.7 L847.1,360.6 L847.1,362.0 L847.2,364.0 L847.6,365.2 L847.8,366.1 L848.2,368.8 L848.3,369.8 L848.5,370.6 L849.0,373.1 L849.3,375.1 L850.0,376.5 L849.8,377.5 L850.3,379.9 L850.6,380.6 L850.9,382.1 L850.7,380.2 L851.0,378.6 L851.0,376.9 L850.9,376.1 L851.3,375.0 L851.7,373.8 L852.0,370.6 L851.8,370.7 L851.4,367.6 L851.4,366.1 L852.0,365.2 L852.5,364.5 L851.8,361.2 L851.8,361.4 L852.1,359.3 L852.2,357.4 L852.5,357.0 L852.0,354.4 L852.7,353.6 L852.7,351.1 L852.2,349.4 L852.8,349.2 L852.9,347.1 L852.7,345.9 L852.9,343.9 L853.5,345.3 L853.3,346.9 L853.2,348.4 L853.6,348.5 L854.4,346.9 L854.1,345.2 L855.0,344.0 L854.6,341.7 L854.7,340.7 L854.9,339.7 L855.5,337.9 L856.1,335.9 L856.0,334.7 L855.9,336.4 L856.3,337.7 L856.9,336.6 L857.0,335.3 L856.4,333.4 L856.8,331.9 L857.6,330.7 L857.5,328.5 L857.3,329.8 L857.4,332.2 L857.8,333.1 L858.8,332.5 L859.3,331.6 L859.6,330.5 L859.8,327.9 L860.6,327.6 L860.4,325.6 L860.4,323.4 L860.5,322.7 L861.2,320.9 L861.9,321.9 L861.6,323.8 L862.1,326.0 L862.7,327.0 L862.7,328.0 L863.0,330.8 L863.5,330.8 L863.2,332.2 L863.9,334.9 L863.9,336.1 L864.2,337.0 L864.0,335.1 L864.8,333.1 L864.9,333.2 L864.9,330.7 L865.1,330.5 L865.1,328.4 L865.2,327.5 L865.7,325.5 L865.4,323.0 L865.5,322.1 L865.8,320.8 L865.8,319.3 L865.7,317.2 L866.4,316.4 L866.6,314.1 L866.4,312.5 L866.3,311.4 L866.6,311.1 L867.0,308.6 L866.7,310.2 L866.8,312.6 L866.9,314.1 L867.2,314.7 L867.1,316.8 L867.2,318.4 L867.7,319.2 L868.0,321.7 L867.5,323.7 L868.4,325.0 L868.5,325.7 L867.9,327.4 L868.7,329.5 L868.0,331.2 L868.5,332.3 L868.8,333.0 L868.5,333.9 L869.0,333.3 L869.2,331.7 L869.7,330.3 L870.3,327.7 L870.4,327.0 L870.2,325.7 L870.6,323.7 L870.4,322.5 L871.6,321.0 L871.0,319.4 L871.6,317.3 L871.3,316.8 L871.7,315.7 L871.6,313.0 L872.6,312.9 L872.4,310.9 L872.8,312.5 L872.6,313.0 L873.1,315.5 L873.3,316.5 L873.2,318.8 L873.9,319.3 L873.8,317.6 L874.5,317.2 L874.2,314.7 L874.8,313.2 L874.3,311.1 L874.7,309.2 L874.5,309.4 L875.5,307.7 L875.1,305.3 L875.4,304.0 L876.9,303.1 L877.4,304.0 L877.5,302.2 L877.9,301.3 L878.3,300.4 L878.0,298.7 L878.1,295.8 L878.1,294.4 L878.7,293.9 L878.0,292.1 L878.5,290.2 L878.8,289.2 L878.4,287.3 L878.5,285.5 L878.9,283.8 L879.1,282.6 L878.9,281.1 L879.0,279.9 L879.6,278.0 L879.3,276.4 L879.6,275.5 L880.7,273.9 L880.5,271.8 L880.8,270.3 L881.7,268.5 L881.9,268.2 L882.6,267.3 L882.8,266.2 L883.5,264.5 L884.2,264.2 L884.3,262.5 L883.8,261.1 L884.0,259.6 L884.1,258.3 L884.4,255.2 L884.2,255.2 L884.2,253.6 L884.8,252.3 L884.7,249.7 L884.5,247.5 L884.3,246.2 L884.8,245.7 L884.7,244.0 L884.6,241.9 L884.7,240.7 L884.8,237.9 L885.2,238.1 L885.3,236.6 L885.4,233.8 L885.7,232.7 L885.5,231.1 L885.9,228.9 L886.0,229.0 L886.7,226.4 L886.3,225.1 L886.6,223.8 L886.9,222.0 L887.0,220.7 L887.7,218.5 L887.4,217.5 L888.0,216.6 L888.5,214.3 L888.4,212.8 L889.2,212.6 L890.0,211.3 L890.4,209.0 L890.5,207.5 L891.1,207.2 L891.3,204.3 L891.5,203.6 L891.6,201.2 L892.0,201.3 L891.7,199.8 L891.8,197.2 L892.8,195.9 L892.7,196.0 L892.7,193.7 L893.4,194.9 L893.4,196.1 L893.5,198.3 L894.3,199.0 L894.7,198.4 L895.0,196.2 L895.2,194.8 L895.8,194.4 L896.5,193.3 L896.6,193.1 L897.0,190.7 L897.6,189.8 L897.4,191.0 L897.6,193.0 L897.8,194.5 L898.3,195.9 L898.2,197.8 L898.6,199.5 L898.6,200.6 L898.0,201.9 L898.7,203.3 L898.2,206.4 L898.1,207.7 L898.5,208.3 L899.1,211.1 L898.5,211.3 L898.9,213.6 L899.3,211.4 L900.1,210.6 L899.8,208.7 L900.4,208.2 L900.8,207.2 L900.8,206.3 L901.6,205.4 L901.9,203.6 L902.5,205.9 L902.3,206.4 L902.6,208.0 L902.7,209.2 L902.5,210.5 L903.2,213.6 L903.8,213.9 L903.5,215.9 L903.3,213.5 L903.4,213.5 L903.8,211.0 L903.8,210.2 L903.9,209.1 L903.9,207.5 L904.4,205.0 L904.7,203.1 L905.3,202.1 L905.0,200.6 L905.8,200.5 L906.5,199.0 L907.1,198.6 L906.9,196.3 L907.4,195.6 L908.1,194.4 L908.0,196.8 L908.2,197.3 L908.6,198.7 L909.1,200.5 L909.4,201.8 L909.7,204.3 L909.6,205.2 L909.7,207.6 L910.4,207.7 L910.2,210.5 L910.1,212.0 L910.4,213.5 L910.6,215.2 L911.3,215.6 L911.1,217.4 L910.8,216.1 L911.5,213.9 L912.0,212.7 L911.8,210.7 L912.2,209.8 L911.8,209.1 L912.1,206.0 L912.7,205.0 L912.7,203.6 L913.1,205.0 L913.0,207.1 L913.5,207.5 L912.9,209.7 L913.1,211.9 L913.4,212.5 L913.7,214.3 L913.5,215.4 L913.9,216.9 L913.9,218.5 L914.6,219.7 L914.5,222.3 L914.2,224.2 L915.1,224.6 L914.5,225.8 L915.5,227.2 L915.3,229.7 L915.5,231.4 L915.6,232.6 L915.5,234.2 L915.9,235.0 L915.5,237.3 L915.8,239.1 L915.8,241.3 L915.8,242.8 L915.7,244.1 L915.8,244.6 L916.3,246.5 L916.4,245.8 L916.3,243.5 L917.1,241.9 L917.3,241.4 L917.5,238.4 L917.2,237.4 L917.6,235.8 L918.6,236.0 L919.1,234.3 L920.4,234.4 L920.9,233.5 L921.2,235.3 L921.7,236.9 L921.1,237.2 L921.5,240.1 L921.6,241.2 L921.8,242.5 L922.2,243.5 L922.7,246.0 L922.7,246.7 L922.5,248.8 L922.7,248.8 L923.6,251.2 L923.4,252.0 L923.7,254.2 L924.2,256.1 L924.2,257.0 L924.0,258.8 L923.7,259.4 L924.3,261.6 L924.6,263.9 L924.5,265.1 L924.5,266.5 L924.4,265.1 L925.1,262.9 L925.1,261.0 L925.5,260.2 L925.3,259.2 L926.1,256.7 L925.6,255.9 L926.7,253.4 L926.8,252.9 L926.8,251.1 L927.4,249.1 L927.5,248.2 L928.0,248.1 L928.6,247.5 L928.5,245.2 L928.7,242.7 L929.1,241.7 L928.7,239.4 L928.5,239.7 L929.0,237.3 L928.9,238.9 L929.6,240.9 L929.5,242.3 L930.1,242.9 L929.8,245.1 L930.3,246.7 L929.8,247.5 L930.3,250.3 L930.6,251.1 L930.7,252.1 L930.6,253.7 L931.0,255.9 L931.0,256.8 L930.2,259.1 L930.3,260.7 L930.8,262.2 L930.7,263.2 L930.1,264.0 L930.2,265.0 L930.6,266.5 L930.6,268.2 L930.6,270.3 L930.5,272.5 L931.5,273.6 L931.3,274.3 L931.4,277.2 L931.7,278.0 L931.6,279.3 L932.1,280.5 L932.3,283.0 L932.8,285.1 L933.1,286.1 L933.6,287.2 L934.3,286.9 L935.2,285.6 L934.9,288.1 L935.2,289.2 L935.5,289.3 L935.8,291.0 L936.2,292.7 L935.6,294.9 L936.2,296.4 L936.4,298.1 L936.7,298.4 L937.0,301.4 L936.9,301.3 L936.6,303.1 L937.2,304.7 L936.9,306.1 L937.3,307.4 L937.1,310.1 L937.1,310.5 L937.4,311.9 L937.5,314.0 L937.8,313.0 L937.4,309.9 L937.6,308.3 L938.2,308.6 L938.0,306.1 L938.1,304.2 L938.1,303.1 L938.5,300.9 L937.9,299.6 L937.8,297.8 L938.4,297.3 L938.5,296.0 L938.8,294.4 L939.0,291.5 L938.7,290.2 L938.6,289.1 L939.4,287.0 L939.7,285.9 L939.9,283.1 L939.8,282.6 L940.6,284.5 L940.5,285.6 L941.0,286.7 L941.8,287.2 L942.2,289.4 L941.6,289.6 L942.2,291.2 L942.1,294.2 L942.8,294.2 L942.1,296.9 L942.7,296.9 L943.2,298.8 L942.8,301.0 L942.8,300.6 L943.9,297.9 L944.1,298.4 L944.4,296.4 L945.1,298.7 L945.1,300.3 L944.9,301.4 L945.6,303.1 L945.4,304.0 L945.6,306.2 L945.9,307.9 L946.1,309.4 L945.5,309.8 L945.9,310.7 L945.8,314.0 L946.6,314.7 L946.2,315.5 L946.3,318.7 L946.4,319.3 L946.3,321.3 L946.9,322.4 L946.6,324.5 L946.4,325.4 L946.5,326.4 L946.6,329.6 L947.2,330.3 L946.7,332.1 L947.0,333.9 L947.6,335.0 L947.2,337.5 L947.4,338.4 L948.6,337.7 L949.0,336.1 L950.0,337.7 L951.3,337.7 L952.0,339.4 L953.6,339.2 L954.2,339.5 L954.0,342.2 L955.2,342.1 L955.3,344.8 L955.6,345.3 L956.0,344.6 L956.5,341.6 L955.9,341.5 L956.4,339.9 L957.3,337.4 L957.4,335.5 L957.4,334.6 L957.7,335.4 L958.1,336.9 L958.2,338.2 L959.1,341.0 L958.9,342.3 L959.1,343.2 L960.0,345.3 L960.1,345.9 L960.5,348.4 L960.4,349.8 L961.0,350.7 L960.4,352.8 L960.7,353.3 L960.7,355.6 L961.1,356.6 L961.5,357.7 L961.2,360.0 L961.3,362.4 L961.7,362.9 L961.9,364.0 L962.9,365.3 L962.6,366.3 L963.2,367.5 L963.8,366.7 L963.2,363.8 L964.0,362.8 L963.2,361.6 L964.0,360.0 L964.2,359.7 L964.1,358.1 L964.2,355.1 L964.4,353.9 L964.3,353.0 L964.8,352.2 L964.6,350.3 L964.4,348.5 L965.2,347.7 L964.8,344.7 L965.7,344.0 L965.6,343.2 L965.8,340.7 L965.8,339.9 L966.2,337.1 L967.1,335.2 L967.4,334.6 L968.1,335.6 L968.7,337.6 L968.6,339.4 L969.8,340.8 L969.5,341.5 L970.4,343.0 L970.7,341.8 L971.9,340.7 L971.8,339.3 L972.5,338.2 L972.6,335.3 L972.4,334.4 L972.7,333.9 L972.1,332.3 L972.5,329.1 L972.9,328.6 L973.4,327.6 L973.0,326.0 L973.5,323.9 L973.1,322.7 L973.7,321.3 L973.6,318.7 L973.8,318.0 L973.9,316.2 L973.3,314.2 L974.0,312.5 L973.9,311.5 L973.8,309.7 L974.2,308.6 L974.3,311.0 L974.7,310.9 L974.6,313.8 L974.3,315.2 L975.2,315.8 L974.6,317.4 L975.0,319.7 L974.9,320.2 L975.7,321.5 L975.7,323.7 L975.8,325.5 L975.8,323.8 L975.9,323.0 L976.6,321.0 L976.5,320.0 L976.1,317.8 L976.1,316.8 L977.1,314.0 L976.8,313.5 L977.1,310.8 L977.1,309.8 L977.3,308.6 L977.5,307.9 L977.1,305.6 L977.5,303.8 L977.3,302.4 L977.3,301.3 L977.6,300.2 L977.6,297.3 L977.7,296.8 L978.4,295.6 L978.1,293.6 L978.1,291.8 L977.9,291.0 L978.3,288.7 L978.1,287.2 L978.5,285.6 L978.3,285.1 L978.2,282.3 L978.2,280.4 L978.7,278.6 L978.9,278.1 L979.0,276.0 L979.0,274.5 L979.0,274.2 L978.6,272.1 L979.2,269.7 L978.5,268.6 L979.0,267.3 L979.1,265.5 L979.5,266.4 L979.7,268.3 L979.3,268.6 L979.8,270.3 L979.8,269.5 L980.2,267.3 L979.9,265.7 L980.2,263.2 L980.2,262.6 L980.1,261.8 L979.7,259.5 L980.6,257.4 L980.3,256.0 L980.2,254.9 L980.6,256.7 L980.1,257.3 L980.4,259.5 L981.0,262.1 L980.9,261.9 L980.9,265.2 L980.7,265.8 L981.0,267.8 L981.0,268.2 L981.1,270.7 L981.5,272.9 L981.7,273.8 L981.5,275.6 L982.4,275.8 L982.1,277.7 L982.2,279.3 L982.7,280.7 L983.1,282.1 L982.6,284.5 L982.6,285.0 L983.1,287.2 L983.0,286.0 L983.5,284.3 L983.0,282.7 L983.7,280.7 L982.8,278.5 L983.2,278.8 L983.7,276.7 L983.0,274.5 L983.0,273.1 L983.5,270.8 L983.3,269.6 L983.4,269.2 L983.6,266.8 L983.3,265.5 L984.4,265.4 L984.7,267.3 L984.6,267.9 L985.1,270.0 L985.0,271.4 L985.3,269.1 L985.1,269.0 L985.8,267.8 L985.9,265.7 L986.1,264.8 L986.2,262.5 L986.9,260.8 L986.9,259.6 L987.1,257.4 L988.0,256.8 L987.8,254.7 L988.1,253.6 L988.5,252.5 L988.4,253.7 L988.7,255.7 L988.5,257.9 L989.4,257.4 L989.2,260.4 L988.9,262.1 L990.0,262.0 L989.5,265.3 L989.6,266.3 L990.2,266.3 L990.0,268.4 L990.2,270.2 L990.9,270.8 L991.0,272.0 L991.3,274.3 L992.0,276.6 L992.2,277.4 L992.1,278.5 L992.6,279.7 L992.8,281.6 L993.7,282.7 L993.2,283.9 L993.9,285.9 L994.1,286.3 L994.8,288.0 L994.9,289.2 L995.2,287.9 L995.1,285.4 L995.6,284.8 L996.1,283.1 L995.9,282.7 L996.8,279.7 L996.9,278.5 L996.8,277.3 L996.5,279.4 L997.2,281.2 L997.2,280.9 L997.3,283.7 L997.3,285.1 L997.5,286.6 L997.4,288.1 L997.8,289.0 L998.7,289.9 L998.0,293.1 L998.9,293.8 L998.7,295.1 L999.9,294.4 L1001.1,293.9 L1001.4,296.1 L1001.1,296.8 L1001.6,298.0 L1001.4,300.5 L1002.5,302.4 L1002.0,303.1 L1002.9,305.6 L1002.6,305.7 L1002.7,308.1 L1002.6,310.2 L1003.0,311.6 L1003.0,313.2 L1003.5,313.7 L1003.3,315.5 L1003.7,317.7 L1004.5,318.6 L1003.9,320.8 L1004.4,322.3 L1004.6,322.5 L1005.3,324.5 L1006.0,325.9 L1006.3,327.1 L1006.0,328.5 L1006.2,329.4 L1007.1,332.6 L1007.4,333.8 L1007.2,335.0 L1007.3,336.2 L1007.8,338.0 L1008.0,339.4 L1007.5,341.5 L1008.1,342.8 L1007.7,343.6 L1008.2,346.0 L1008.8,343.9 L1009.5,343.1 L1009.8,341.3 L1010.5,339.8 L1010.5,338.9 L1012.2,338.6 L1012.9,340.1 L1013.7,338.2 L1014.5,337.3 L1014.9,335.7 L1015.3,334.2 L1015.7,335.2 L1015.5,337.5 L1015.3,338.3 L1015.6,339.5 L1015.8,340.8 L1016.2,343.0 L1016.6,345.6 L1016.6,346.5 L1017.0,348.7 L1016.7,350.0 L1016.9,350.7 L1017.2,349.2 L1017.3,348.3 L1017.6,345.9 L1018.1,343.9 L1018.7,342.3 L1018.4,342.7 L1019.3,339.4 L1019.3,338.9 L1019.5,340.1 L1019.8,341.2 L1020.6,344.1 L1020.8,345.0 L1021.7,346.0 L1021.5,347.8 L1021.5,349.5 L1022.6,349.6 L1022.8,352.7 L1022.2,353.5 L1022.1,354.4 L1022.3,356.2 L1022.6,357.2 L1022.6,358.9 L1022.7,360.3 L1023.3,362.6 L1023.8,364.0 L1023.2,366.5 L1023.4,366.8 L1023.4,369.6 L1023.9,370.6 L1024.1,372.8 L1024.6,374.2 L1024.4,375.6 L1024.2,377.5 L1024.6,377.4 L1024.6,380.8 L1024.6,380.8 L1025.5,382.9 L1025.2,384.4 L1025.2,386.2 L1025.3,384.5 L1026.2,383.5 L1026.3,382.4 L1026.1,381.7 L1027.0,378.8 L1026.4,378.6 L1027.1,376.8 L1027.2,376.1 L1028.1,374.0 L1028.3,372.6 L1028.8,370.1 L1029.5,369.7 L1029.9,371.8 L1030.3,372.5 L1030.8,373.0 L1030.5,375.1 L1031.1,376.8" fill="none" stroke="#000" stroke-width="2.9" stroke-linejoin="round" stroke-linecap="round"/>
<rect x="123.1" y="63.6" width="909.10" height="545.85" fill="none" stroke="#000" stroke-width="2.6"/>
<line x1="108.60" y1="63.60" x2="123.10" y2="63.60" stroke="#000" stroke-width="2.6" />
<line x1="115.60" y1="131.83" x2="123.10" y2="131.83" stroke="#000" stroke-width="2.6" />
<line x1="108.60" y1="200.06" x2="123.10" y2="200.06" stroke="#000" stroke-width="2.6" />
<line x1="115.60" y1="268.29" x2="123.10" y2="268.29" stroke="#000" stroke-width="2.6" />
<line x1="108.60" y1="336.53" x2="123.10" y2="336.53" stroke="#000" stroke-width="2.6" />
<line x1="115.60" y1="404.76" x2="123.10" y2="404.76" stroke="#000" stroke-width="2.6" />
<line x1="108.60" y1="472.99" x2="123.10" y2="472.99" stroke="#000" stroke-width="2.6" />
<line x1="115.60" y1="541.22" x2="123.10" y2="541.22" stroke="#000" stroke-width="2.6" />
<line x1="108.60" y1="609.45" x2="123.10" y2="609.45" stroke="#000" stroke-width="2.6" />
<line x1="123.10" y1="609.45" x2="123.10" y2="620.65" stroke="#000" stroke-width="2.6" />
<line x1="236.74" y1="609.45" x2="236.74" y2="616.85" stroke="#000" stroke-width="2.6" />
<line x1="350.38" y1="609.45" x2="350.38" y2="620.65" stroke="#000" stroke-width="2.6" />
<line x1="464.01" y1="609.45" x2="464.01" y2="616.85" stroke="#000" stroke-width="2.6" />
<line x1="577.65" y1="609.45" x2="577.65" y2="620.65" stroke="#000" stroke-width="2.6" />
<line x1="691.29" y1="609.45" x2="691.29" y2="616.85" stroke="#000" stroke-width="2.6" />
<line x1="804.93" y1="609.45" x2="804.93" y2="620.65" stroke="#000" stroke-width="2.6" />
<line x1="918.56" y1="609.45" x2="918.56" y2="616.85" stroke="#000" stroke-width="2.6" />
<line x1="1032.20" y1="609.45" x2="1032.20" y2="620.65" stroke="#000" stroke-width="2.6" />
<g fill="#bdddf6">
<path d="M1518.4,304.9 L1528.3,303.4 L1538.3,305.7 L1546.7,304.2 L1557.5,306.4 L1568.2,305.7 L1576.6,310.3 L1585.8,314.1 L1594.2,317.9 L1602.7,320.2 L1611.8,319.5 L1620.3,313.3 L1627.2,323.3 L1633.3,327.9 L1645.5,331.7 L1659.3,336.3 L1662.4,346.3 L1664.7,350.9 L1671.6,357.0 L1680.0,360.1 L1691.5,366.2 L1697.6,363.9 L1703.0,360.1 L1706.8,368.5 L1709.9,372.3 L1719.1,376.9 L1728.0,377.6 L1728.3,377.7 L1736.4,385.3 L1744.1,392.2 L1751.8,399.1 L1761.0,402.1 L1768.6,403.7 L1776.3,409.8 L1783.2,411.3 L1790.1,417.5 L1796.2,421.3 L1803.9,425.9 L1812.3,427.4 L1818.4,433.5 L1822.6,437.7 L1823.8,438.1 L1833.0,442.0 L1833.7,442.5 L1842.9,443.5 L1843.5,443.2 L1849.7,449.5 L1849.8,449.6 L1855.9,453.5 L1856.0,453.7 L1865.1,456.5 L1867.1,457.2 L1877.4,461.9 L1878.3,462.7 L1885.2,468.3 L1892.2,473.2 L1900.6,476.0 L1907.5,480.8 L1913.1,484.3 L1921.4,481.5 L1928.4,471.8 L1934.0,482.9 L1936.8,488.5 L1946.5,491.3 L1945.8,563.5 L1938.2,562.4 L1929.8,565.9 L1924.2,562.4 L1917.3,554.8 L1906.1,553.4 L1895.0,550.6 L1890.8,548.5 L1885.2,543.6 L1881.1,538.7 L1878.3,531.8 L1868.5,529.7 L1863.0,526.2 L1857.4,520.6 L1849.0,517.9 L1846.2,515.8 L1839.3,510.9 L1829.5,512.3 L1824.0,505.3 L1818.4,494.9 L1811.4,489.9 L1805.8,482.9 L1796.1,479.4 L1785.0,480.1 L1780.8,474.6 L1778.0,466.2 L1772.4,462.7 L1765.5,459.2 L1758.5,457.9 L1751.5,455.1 L1736.4,438.1 L1730.3,433.5 L1724.2,435.1 L1718.1,439.7 L1713.5,437.4 L1710.4,432.0 L1705.8,427.4 L1699.7,419.8 L1692.0,417.5 L1684.3,413.6 L1676.7,412.9 L1667.5,412.1 L1664.4,407.5 L1662.9,399.8 L1658.3,395.2 L1652.2,388.3 L1634.8,376.9 L1631.8,370.8 L1621.0,368.5 L1613.4,364.7 L1605.7,361.6 L1599.6,355.5 L1595.0,346.3 L1585.0,351.6 L1578.1,344.8 L1572.0,335.6 L1561.3,343.2 L1552.1,346.3 L1546.0,338.6 L1538.3,327.1 L1524.5,329.4 L1519.2,323.3 L1518.4,311.8 Z"/>
<circle cx="1518.4" cy="304.9" r="7.2"/>
<circle cx="1523.6" cy="305.5" r="7.2"/>
<circle cx="1528.3" cy="303.4" r="7.2"/>
<circle cx="1533.0" cy="306.1" r="7.2"/>
<circle cx="1538.3" cy="305.7" r="7.2"/>
<circle cx="1542.8" cy="306.6" r="7.2"/>
<circle cx="1546.7" cy="304.2" r="7.2"/>
<circle cx="1551.7" cy="307.3" r="7.2"/>
<circle cx="1557.5" cy="306.4" r="7.2"/>
<circle cx="1562.9" cy="307.7" r="7.2"/>
<circle cx="1568.2" cy="305.7" r="7.2"/>
<circle cx="1571.4" cy="309.8" r="7.2"/>
<circle cx="1576.6" cy="310.3" r="7.2"/>
<circle cx="1581.2" cy="312.3" r="7.2"/>
<circle cx="1585.8" cy="314.1" r="7.2"/>
<circle cx="1589.6" cy="317.0" r="7.2"/>
<circle cx="1594.2" cy="317.9" r="7.2"/>
<circle cx="1597.9" cy="321.1" r="7.2"/>
<circle cx="1602.7" cy="320.2" r="7.2"/>
<circle cx="1607.4" cy="321.3" r="7.2"/>
<circle cx="1611.8" cy="319.5" r="7.2"/>
<circle cx="1617.2" cy="318.0" r="7.2"/>
<circle cx="1620.3" cy="313.3" r="7.2"/>
<circle cx="1623.5" cy="318.5" r="7.2"/>
<circle cx="1627.2" cy="323.3" r="7.2"/>
<circle cx="1633.3" cy="327.9" r="7.2"/>
<circle cx="1639.1" cy="330.8" r="7.2"/>
<circle cx="1645.5" cy="331.7" r="7.2"/>
<circle cx="1652.3" cy="334.5" r="7.2"/>
<circle cx="1659.3" cy="336.3" r="7.2"/>
<circle cx="1659.7" cy="341.7" r="7.2"/>
<circle cx="1662.4" cy="346.3" r="7.2"/>
<circle cx="1664.7" cy="350.9" r="7.2"/>
<circle cx="1667.3" cy="354.9" r="7.2"/>
<circle cx="1671.6" cy="357.0" r="7.2"/>
<circle cx="1675.8" cy="358.6" r="7.2"/>
<circle cx="1680.0" cy="360.1" r="7.2"/>
<circle cx="1685.5" cy="363.6" r="7.2"/>
<circle cx="1691.5" cy="366.2" r="7.2"/>
<circle cx="1697.6" cy="363.9" r="7.2"/>
<circle cx="1703.0" cy="360.1" r="7.2"/>
<circle cx="1704.4" cy="364.5" r="7.2"/>
<circle cx="1706.8" cy="368.5" r="7.2"/>
<circle cx="1709.9" cy="372.3" r="7.2"/>
<circle cx="1713.6" cy="376.4" r="7.2"/>
<circle cx="1719.1" cy="376.9" r="7.2"/>
<circle cx="1723.4" cy="379.0" r="7.2"/>
<circle cx="1728.0" cy="377.6" r="7.2"/>
<circle cx="1728.3" cy="377.7" r="7.2"/>
<circle cx="1732.1" cy="381.7" r="7.2"/>
<circle cx="1736.4" cy="385.3" r="7.2"/>
<circle cx="1739.1" cy="390.0" r="7.2"/>
<circle cx="1744.1" cy="392.2" r="7.2"/>
<circle cx="1747.7" cy="395.8" r="7.2"/>
<circle cx="1751.8" cy="399.1" r="7.2"/>
<circle cx="1755.9" cy="401.9" r="7.2"/>
<circle cx="1761.0" cy="402.1" r="7.2"/>
<circle cx="1768.6" cy="403.7" r="7.2"/>
<circle cx="1772.3" cy="406.9" r="7.2"/>
<circle cx="1776.3" cy="409.8" r="7.2"/>
<circle cx="1783.2" cy="411.3" r="7.2"/>
<circle cx="1786.6" cy="414.4" r="7.2"/>
<circle cx="1790.1" cy="417.5" r="7.2"/>
<circle cx="1796.2" cy="421.3" r="7.2"/>
<circle cx="1799.0" cy="425.2" r="7.2"/>
<circle cx="1803.9" cy="425.9" r="7.2"/>
<circle cx="1808.0" cy="427.1" r="7.2"/>
<circle cx="1812.3" cy="427.4" r="7.2"/>
<circle cx="1815.0" cy="430.8" r="7.2"/>
<circle cx="1818.4" cy="433.5" r="7.2"/>
<circle cx="1822.6" cy="437.7" r="7.2"/>
<circle cx="1823.8" cy="438.1" r="7.2"/>
<circle cx="1827.5" cy="442.0" r="7.2"/>
<circle cx="1833.0" cy="442.0" r="7.2"/>
<circle cx="1833.7" cy="442.5" r="7.2"/>
<circle cx="1838.1" cy="444.9" r="7.2"/>
<circle cx="1842.9" cy="443.5" r="7.2"/>
<circle cx="1843.5" cy="443.2" r="7.2"/>
<circle cx="1846.1" cy="446.8" r="7.2"/>
<circle cx="1849.7" cy="449.5" r="7.2"/>
<circle cx="1849.8" cy="449.6" r="7.2"/>
<circle cx="1855.9" cy="453.5" r="7.2"/>
<circle cx="1856.0" cy="453.7" r="7.2"/>
<circle cx="1859.9" cy="457.1" r="7.2"/>
<circle cx="1865.1" cy="456.5" r="7.2"/>
<circle cx="1867.1" cy="457.2" r="7.2"/>
<circle cx="1871.8" cy="460.6" r="7.2"/>
<circle cx="1877.4" cy="461.9" r="7.2"/>
<circle cx="1878.3" cy="462.7" r="7.2"/>
<circle cx="1880.8" cy="466.7" r="7.2"/>
<circle cx="1885.2" cy="468.3" r="7.2"/>
<circle cx="1888.5" cy="471.1" r="7.2"/>
<circle cx="1892.2" cy="473.2" r="7.2"/>
<circle cx="1895.7" cy="476.5" r="7.2"/>
<circle cx="1900.6" cy="476.0" r="7.2"/>
<circle cx="1903.2" cy="479.6" r="7.2"/>
<circle cx="1907.5" cy="480.8" r="7.2"/>
<circle cx="1913.1" cy="484.3" r="7.2"/>
<circle cx="1917.9" cy="484.9" r="7.2"/>
<circle cx="1921.4" cy="481.5" r="7.2"/>
<circle cx="1926.5" cy="477.8" r="7.2"/>
<circle cx="1928.4" cy="471.8" r="7.2"/>
<circle cx="1930.6" cy="477.6" r="7.2"/>
<circle cx="1934.0" cy="482.9" r="7.2"/>
<circle cx="1936.8" cy="488.5" r="7.2"/>
<circle cx="1941.4" cy="490.7" r="7.2"/>
<circle cx="1946.5" cy="491.3" r="7.2"/>
<circle cx="1518.4" cy="311.8" r="7.2"/>
<circle cx="1519.1" cy="317.5" r="7.2"/>
<circle cx="1519.2" cy="323.3" r="7.2"/>
<circle cx="1524.5" cy="329.4" r="7.2"/>
<circle cx="1531.4" cy="328.0" r="7.2"/>
<circle cx="1538.3" cy="327.1" r="7.2"/>
<circle cx="1542.3" cy="332.8" r="7.2"/>
<circle cx="1546.0" cy="338.6" r="7.2"/>
<circle cx="1549.5" cy="342.0" r="7.2"/>
<circle cx="1552.1" cy="346.3" r="7.2"/>
<circle cx="1556.3" cy="343.5" r="7.2"/>
<circle cx="1561.3" cy="343.2" r="7.2"/>
<circle cx="1566.6" cy="339.4" r="7.2"/>
<circle cx="1572.0" cy="335.6" r="7.2"/>
<circle cx="1576.3" cy="339.3" r="7.2"/>
<circle cx="1578.1" cy="344.8" r="7.2"/>
<circle cx="1582.1" cy="347.7" r="7.2"/>
<circle cx="1585.0" cy="351.6" r="7.2"/>
<circle cx="1589.7" cy="348.4" r="7.2"/>
<circle cx="1595.0" cy="346.3" r="7.2"/>
<circle cx="1598.9" cy="350.1" r="7.2"/>
<circle cx="1599.6" cy="355.5" r="7.2"/>
<circle cx="1603.4" cy="357.8" r="7.2"/>
<circle cx="1605.7" cy="361.6" r="7.2"/>
<circle cx="1613.4" cy="364.7" r="7.2"/>
<circle cx="1617.5" cy="366.0" r="7.2"/>
<circle cx="1621.0" cy="368.5" r="7.2"/>
<circle cx="1626.6" cy="368.6" r="7.2"/>
<circle cx="1631.8" cy="370.8" r="7.2"/>
<circle cx="1634.8" cy="376.9" r="7.2"/>
<circle cx="1641.5" cy="379.4" r="7.2"/>
<circle cx="1646.5" cy="384.4" r="7.2"/>
<circle cx="1652.2" cy="388.3" r="7.2"/>
<circle cx="1656.8" cy="390.4" r="7.2"/>
<circle cx="1658.3" cy="395.2" r="7.2"/>
<circle cx="1662.9" cy="399.8" r="7.2"/>
<circle cx="1664.4" cy="407.5" r="7.2"/>
<circle cx="1667.5" cy="412.1" r="7.2"/>
<circle cx="1672.1" cy="412.4" r="7.2"/>
<circle cx="1676.7" cy="412.9" r="7.2"/>
<circle cx="1684.3" cy="413.6" r="7.2"/>
<circle cx="1688.9" cy="414.1" r="7.2"/>
<circle cx="1692.0" cy="417.5" r="7.2"/>
<circle cx="1699.7" cy="419.8" r="7.2"/>
<circle cx="1704.2" cy="422.4" r="7.2"/>
<circle cx="1705.8" cy="427.4" r="7.2"/>
<circle cx="1710.4" cy="432.0" r="7.2"/>
<circle cx="1713.5" cy="437.4" r="7.2"/>
<circle cx="1718.1" cy="439.7" r="7.2"/>
<circle cx="1724.2" cy="435.1" r="7.2"/>
<circle cx="1730.3" cy="433.5" r="7.2"/>
<circle cx="1736.4" cy="438.1" r="7.2"/>
<circle cx="1741.5" cy="443.8" r="7.2"/>
<circle cx="1747.8" cy="448.3" r="7.2"/>
<circle cx="1751.5" cy="455.1" r="7.2"/>
<circle cx="1758.5" cy="457.9" r="7.2"/>
<circle cx="1765.5" cy="459.2" r="7.2"/>
<circle cx="1772.4" cy="462.7" r="7.2"/>
<circle cx="1778.0" cy="466.2" r="7.2"/>
<circle cx="1780.2" cy="470.1" r="7.2"/>
<circle cx="1780.8" cy="474.6" r="7.2"/>
<circle cx="1785.0" cy="480.1" r="7.2"/>
<circle cx="1790.4" cy="478.5" r="7.2"/>
<circle cx="1796.1" cy="479.4" r="7.2"/>
<circle cx="1801.0" cy="481.2" r="7.2"/>
<circle cx="1805.8" cy="482.9" r="7.2"/>
<circle cx="1808.7" cy="486.3" r="7.2"/>
<circle cx="1811.4" cy="489.9" r="7.2"/>
<circle cx="1815.1" cy="492.1" r="7.2"/>
<circle cx="1818.4" cy="494.9" r="7.2"/>
<circle cx="1823.0" cy="499.1" r="7.2"/>
<circle cx="1824.0" cy="505.3" r="7.2"/>
<circle cx="1827.1" cy="508.5" r="7.2"/>
<circle cx="1829.5" cy="512.3" r="7.2"/>
<circle cx="1834.2" cy="509.9" r="7.2"/>
<circle cx="1839.3" cy="510.9" r="7.2"/>
<circle cx="1843.9" cy="511.7" r="7.2"/>
<circle cx="1846.2" cy="515.8" r="7.2"/>
<circle cx="1849.0" cy="517.9" r="7.2"/>
<circle cx="1853.9" cy="517.3" r="7.2"/>
<circle cx="1857.4" cy="520.6" r="7.2"/>
<circle cx="1863.0" cy="526.2" r="7.2"/>
<circle cx="1868.5" cy="529.7" r="7.2"/>
<circle cx="1873.6" cy="530.0" r="7.2"/>
<circle cx="1878.3" cy="531.8" r="7.2"/>
<circle cx="1881.1" cy="538.7" r="7.2"/>
<circle cx="1885.2" cy="543.6" r="7.2"/>
<circle cx="1890.8" cy="548.5" r="7.2"/>
<circle cx="1895.0" cy="550.6" r="7.2"/>
<circle cx="1900.7" cy="551.2" r="7.2"/>
<circle cx="1906.1" cy="553.4" r="7.2"/>
<circle cx="1911.8" cy="552.9" r="7.2"/>
<circle cx="1917.3" cy="554.8" r="7.2"/>
<circle cx="1922.0" cy="557.4" r="7.2"/>
<circle cx="1924.2" cy="562.4" r="7.2"/>
<circle cx="1929.8" cy="565.9" r="7.2"/>
<circle cx="1933.9" cy="563.9" r="7.2"/>
<circle cx="1938.2" cy="562.4" r="7.2"/>
<circle cx="1945.8" cy="563.5" r="7.2"/>
<circle cx="1946.5" cy="497.9" r="7.2"/>
<circle cx="1946.4" cy="504.4" r="7.2"/>
<circle cx="1946.3" cy="511.0" r="7.2"/>
<circle cx="1946.3" cy="517.6" r="7.2"/>
<circle cx="1946.2" cy="524.1" r="7.2"/>
<circle cx="1946.1" cy="530.7" r="7.2"/>
<circle cx="1946.1" cy="537.3" r="7.2"/>
<circle cx="1946.0" cy="543.8" r="7.2"/>
<circle cx="1945.9" cy="550.4" r="7.2"/>
<circle cx="1945.9" cy="557.0" r="7.2"/>
<circle cx="1682.0" cy="444.6" r="7.2"/>
<circle cx="1809.3" cy="509.8" r="7.2"/>
<circle cx="1849.0" cy="535.7" r="7.2"/>
</g>
<g fill="#cd5940">
<circle cx="1241.8" cy="92.6" r="7.2"/>
<circle cx="1294.3" cy="115.8" r="7.2"/>
<circle cx="1325.1" cy="143.8" r="7.2"/>
<circle cx="1346.9" cy="177.6" r="7.2"/>
<circle cx="1363.8" cy="169.3" r="7.2"/>
<circle cx="1377.6" cy="184.5" r="7.2"/>
<circle cx="1389.3" cy="198.1" r="7.2"/>
<circle cx="1399.4" cy="229.4" r="7.2"/>
<circle cx="1408.3" cy="204.7" r="7.2"/>
<circle cx="1416.3" cy="219.7" r="7.2"/>
<circle cx="1423.5" cy="225.5" r="7.2"/>
<circle cx="1430.1" cy="220.9" r="7.2"/>
<circle cx="1436.2" cy="249.2" r="7.2"/>
<circle cx="1456.7" cy="253.0" r="7.2"/>
<circle cx="1441.4" cy="266.5" r="7.2"/>
<circle cx="1448.3" cy="266.8" r="7.2"/>
<circle cx="1452.1" cy="273.7" r="7.2"/>
<circle cx="1461.3" cy="272.1" r="7.2"/>
<circle cx="1468.2" cy="272.9" r="7.2"/>
<circle cx="1465.1" cy="282.9" r="7.2"/>
<circle cx="1472.8" cy="277.5" r="7.2"/>
<circle cx="1482.0" cy="282.9" r="7.2"/>
<circle cx="1479.7" cy="294.3" r="7.2"/>
<circle cx="1487.3" cy="292.8" r="7.2"/>
<circle cx="1499.6" cy="292.8" r="7.2"/>
<circle cx="1491.9" cy="297.4" r="7.2"/>
<circle cx="1475.8" cy="305.1" r="7.2"/>
<circle cx="1488.9" cy="308.1" r="7.2"/>
<circle cx="1495.0" cy="303.5" r="7.2"/>
<circle cx="1504.2" cy="315.8" r="7.2"/>
<circle cx="1513.4" cy="320.4" r="7.2"/>
<circle cx="1507.2" cy="326.5" r="7.2"/>
<circle cx="1485.8" cy="298.9" r="7.2"/>
<circle cx="1493.5" cy="295.9" r="7.2"/>
<circle cx="1491.9" cy="306.6" r="7.2"/>
<circle cx="1482.7" cy="302.0" r="7.2"/>
<circle cx="1498.1" cy="309.7" r="7.2"/>
</g>
<path d="M1221.9,308.4 L1223.1,308.4 L1224.2,308.4 L1225.4,308.4 L1226.6,308.4 L1227.7,308.4 L1228.9,308.4 M1239.5,308.4 L1241.0,308.4 L1242.5,308.4 L1244.0,308.4 L1245.6,308.4 L1247.1,308.4 L1248.6,308.4 M1259.2,308.4 L1260.7,308.4 L1262.3,308.4 L1263.8,308.4 L1265.3,308.4 L1266.9,308.4 L1268.4,308.4 M1279.0,308.4 L1280.5,308.4 L1282.0,308.4 L1283.5,308.4 L1285.1,308.4 L1286.6,308.4 L1288.1,308.4 M1298.7,308.4 L1300.2,308.4 L1301.8,308.4 L1303.3,308.4 L1304.8,308.4 L1306.4,308.4 L1307.9,308.4 M1318.5,308.4 L1320.0,308.4 L1321.5,308.4 L1323.0,308.4 L1324.6,308.4 L1326.1,308.4 L1327.6,308.4 M1338.2,308.4 L1339.7,308.4 L1341.3,308.4 L1342.8,308.5 L1344.3,308.5 L1345.9,308.5 L1347.4,308.5 M1358.0,308.5 L1359.5,308.5 L1361.0,308.5 L1362.5,308.5 L1364.1,308.5 L1365.6,308.5 L1367.1,308.5 M1377.7,308.5 L1379.2,308.5 L1380.8,308.5 L1382.3,308.5 L1383.8,308.5 L1385.4,308.6 L1386.9,308.6 M1397.5,308.6 L1399.0,308.6 L1400.5,308.6 L1402.0,308.6 L1403.6,308.6 L1405.1,308.7 L1406.6,308.7 M1417.2,308.7 L1418.7,308.8 L1420.3,308.8 L1421.8,308.8 L1423.3,308.8 L1424.9,308.8 L1426.4,308.8 M1437.0,309.0 L1438.5,309.0 L1440.0,309.0 L1441.5,309.1 L1443.1,309.1 L1444.6,309.1 L1446.1,309.1 M1456.7,309.4 L1458.2,309.4 L1459.8,309.5 L1461.3,309.5 L1462.8,309.5 L1464.4,309.6 L1465.9,309.6 M1476.5,310.0 L1478.0,310.1 L1479.5,310.1 L1481.0,310.2 L1482.6,310.3 L1484.1,310.4 L1485.6,310.4 M1496.2,311.1 L1497.7,311.2 L1499.3,311.3 L1500.8,311.4 L1502.3,311.5 L1503.9,311.6 L1505.4,311.7 M1516.0,312.7 L1517.5,312.9 L1519.0,313.1 L1520.5,313.2 L1522.1,313.4 L1523.6,313.6 L1525.1,313.8 M1535.7,315.3 L1537.2,315.5 L1538.8,315.8 L1540.3,316.0 L1541.8,316.3 L1543.4,316.6 L1544.9,316.9 M1555.5,319.1 L1557.0,319.4 L1558.5,319.8 L1560.0,320.1 L1561.6,320.5 L1563.1,320.9 L1564.6,321.3 M1575.2,324.3 L1576.7,324.8 L1578.3,325.3 L1579.8,325.8 L1581.3,326.3 L1582.9,326.8 L1584.4,327.3 M1595.0,331.2 L1596.5,331.7 L1598.0,332.4 L1599.5,333.0 L1601.1,333.6 L1602.6,334.2 L1604.1,334.9 M1614.7,339.5 L1616.2,340.2 L1617.8,340.9 L1619.3,341.6 L1620.8,342.4 L1622.4,343.1 L1623.9,343.8 M1634.5,349.1 L1636.0,349.9 L1637.5,350.7 L1639.0,351.5 L1640.6,352.3 L1642.1,353.1 L1643.6,353.9 M1654.2,359.7 L1655.7,360.5 L1657.3,361.4 L1658.8,362.2 L1660.3,363.1 L1661.9,364.0 L1663.4,364.8 M1674.0,370.9 L1675.5,371.8 L1677.0,372.7 L1678.5,373.6 L1680.1,374.5 L1681.6,375.4 L1683.1,376.3 M1693.7,382.5 L1695.2,383.5 L1696.8,384.4 L1698.3,385.3 L1699.8,386.2 L1701.4,387.2 L1702.9,388.1 M1713.5,394.5 L1715.0,395.4 L1716.5,396.3 L1718.0,397.3 L1719.6,398.2 L1721.1,399.1 L1722.6,400.1 M1733.2,406.6 L1734.7,407.5 L1736.3,408.4 L1737.8,409.4 L1739.3,410.3 L1740.9,411.3 L1742.4,412.2 M1753.0,418.7 L1754.5,419.7 L1756.0,420.6 L1757.5,421.6 L1759.1,422.5 L1760.6,423.5 L1762.1,424.4 M1772.7,430.9 L1774.2,431.9 L1775.8,432.8 L1777.3,433.8 L1778.8,434.7 L1780.4,435.7 L1781.9,436.6 M1792.5,443.1 L1794.0,444.1 L1795.5,445.0 L1797.0,446.0 L1798.6,446.9 L1800.1,447.9 L1801.6,448.8 M1812.2,455.3 L1813.7,456.2 L1815.3,457.2 L1816.8,458.1 L1818.3,459.0 L1819.9,460.0 L1821.4,460.9 M1832.0,467.3 L1833.5,468.3 L1835.0,469.2 L1836.5,470.1 L1838.1,471.0 L1839.6,472.0 L1841.1,472.9 M1851.7,479.2 L1853.2,480.1 L1854.8,481.0 L1856.3,481.9 L1857.8,482.8 L1859.4,483.7 L1860.9,484.6 M1871.5,490.7 L1873.0,491.6 L1874.5,492.4 L1876.0,493.3 L1877.6,494.2 L1879.1,495.0 L1880.6,495.9 M1891.2,501.6 L1892.7,502.4 L1894.3,503.2 L1895.8,504.0 L1897.3,504.8 L1898.9,505.6 L1900.4,506.4 M1911.0,511.5 L1912.5,512.2 L1914.0,512.9 L1915.5,513.6 L1917.1,514.3 L1918.6,515.0 L1920.1,515.6 M1930.7,519.7 L1932.2,520.2 L1933.8,520.7 L1935.3,521.2 L1936.8,521.6 L1938.4,522.0 L1939.9,522.5 M1950.5,524.5 L1951.4,524.6 L1952.3,524.7 L1953.2,524.7 L1954.2,524.8 L1955.1,524.9 L1956.0,524.9" fill="none" stroke="#000" stroke-width="4.1" stroke-linecap="round"/>
<rect x="1220.9" y="63.6" width="736.10" height="545.85" fill="none" stroke="#000" stroke-width="2.6"/>
<line x1="1206.50" y1="63.60" x2="1220.90" y2="63.60" stroke="#000" stroke-width="2.6" />
<line x1="1212.80" y1="101.75" x2="1220.90" y2="101.75" stroke="#000" stroke-width="2.6" />
<line x1="1212.80" y1="92.14" x2="1220.90" y2="92.14" stroke="#000" stroke-width="2.6" />
<line x1="1212.80" y1="85.32" x2="1220.90" y2="85.32" stroke="#000" stroke-width="2.6" />
<line x1="1212.80" y1="80.03" x2="1220.90" y2="80.03" stroke="#000" stroke-width="2.6" />
<line x1="1212.80" y1="75.71" x2="1220.90" y2="75.71" stroke="#000" stroke-width="2.6" />
<line x1="1212.80" y1="72.06" x2="1220.90" y2="72.06" stroke="#000" stroke-width="2.6" />
<line x1="1212.80" y1="68.89" x2="1220.90" y2="68.89" stroke="#000" stroke-width="2.6" />
<line x1="1212.80" y1="66.10" x2="1220.90" y2="66.10" stroke="#000" stroke-width="2.6" />
<rect x="1212.80" y="63.60" width="8.1" height="6.29" fill="#000"/>
<line x1="1206.50" y1="118.19" x2="1220.90" y2="118.19" stroke="#000" stroke-width="2.6" />
<line x1="1212.80" y1="156.34" x2="1220.90" y2="156.34" stroke="#000" stroke-width="2.6" />
<line x1="1212.80" y1="146.73" x2="1220.90" y2="146.73" stroke="#000" stroke-width="2.6" />
<line x1="1212.80" y1="139.91" x2="1220.90" y2="139.91" stroke="#000" stroke-width="2.6" />
<line x1="1212.80" y1="134.62" x2="1220.90" y2="134.62" stroke="#000" stroke-width="2.6" />
<line x1="1212.80" y1="130.29" x2="1220.90" y2="130.29" stroke="#000" stroke-width="2.6" />
<line x1="1212.80" y1="126.64" x2="1220.90" y2="126.64" stroke="#000" stroke-width="2.6" />
<line x1="1212.80" y1="123.47" x2="1220.90" y2="123.47" stroke="#000" stroke-width="2.6" />
<line x1="1212.80" y1="120.68" x2="1220.90" y2="120.68" stroke="#000" stroke-width="2.6" />
<rect x="1212.80" y="118.19" width="8.1" height="6.29" fill="#000"/>
<line x1="1206.50" y1="172.77" x2="1220.90" y2="172.77" stroke="#000" stroke-width="2.6" />
<line x1="1212.80" y1="210.92" x2="1220.90" y2="210.92" stroke="#000" stroke-width="2.6" />
<line x1="1212.80" y1="201.31" x2="1220.90" y2="201.31" stroke="#000" stroke-width="2.6" />
<line x1="1212.80" y1="194.49" x2="1220.90" y2="194.49" stroke="#000" stroke-width="2.6" />
<line x1="1212.80" y1="189.20" x2="1220.90" y2="189.20" stroke="#000" stroke-width="2.6" />
<line x1="1212.80" y1="184.88" x2="1220.90" y2="184.88" stroke="#000" stroke-width="2.6" />
<line x1="1212.80" y1="181.23" x2="1220.90" y2="181.23" stroke="#000" stroke-width="2.6" />
<line x1="1212.80" y1="178.06" x2="1220.90" y2="178.06" stroke="#000" stroke-width="2.6" />
<line x1="1212.80" y1="175.27" x2="1220.90" y2="175.27" stroke="#000" stroke-width="2.6" />
<rect x="1212.80" y="172.77" width="8.1" height="6.29" fill="#000"/>
<line x1="1206.50" y1="227.35" x2="1220.90" y2="227.35" stroke="#000" stroke-width="2.6" />
<line x1="1212.80" y1="265.51" x2="1220.90" y2="265.51" stroke="#000" stroke-width="2.6" />
<line x1="1212.80" y1="255.90" x2="1220.90" y2="255.90" stroke="#000" stroke-width="2.6" />
<line x1="1212.80" y1="249.08" x2="1220.90" y2="249.08" stroke="#000" stroke-width="2.6" />
<line x1="1212.80" y1="243.79" x2="1220.90" y2="243.79" stroke="#000" stroke-width="2.6" />
<line x1="1212.80" y1="239.46" x2="1220.90" y2="239.46" stroke="#000" stroke-width="2.6" />
<line x1="1212.80" y1="235.81" x2="1220.90" y2="235.81" stroke="#000" stroke-width="2.6" />
<line x1="1212.80" y1="232.64" x2="1220.90" y2="232.64" stroke="#000" stroke-width="2.6" />
<line x1="1212.80" y1="229.85" x2="1220.90" y2="229.85" stroke="#000" stroke-width="2.6" />
<rect x="1212.80" y="227.35" width="8.1" height="6.29" fill="#000"/>
<line x1="1206.50" y1="281.94" x2="1220.90" y2="281.94" stroke="#000" stroke-width="2.6" />
<line x1="1212.80" y1="320.09" x2="1220.90" y2="320.09" stroke="#000" stroke-width="2.6" />
<line x1="1212.80" y1="310.48" x2="1220.90" y2="310.48" stroke="#000" stroke-width="2.6" />
<line x1="1212.80" y1="303.66" x2="1220.90" y2="303.66" stroke="#000" stroke-width="2.6" />
<line x1="1212.80" y1="298.37" x2="1220.90" y2="298.37" stroke="#000" stroke-width="2.6" />
<line x1="1212.80" y1="294.05" x2="1220.90" y2="294.05" stroke="#000" stroke-width="2.6" />
<line x1="1212.80" y1="290.40" x2="1220.90" y2="290.40" stroke="#000" stroke-width="2.6" />
<line x1="1212.80" y1="287.23" x2="1220.90" y2="287.23" stroke="#000" stroke-width="2.6" />
<line x1="1212.80" y1="284.44" x2="1220.90" y2="284.44" stroke="#000" stroke-width="2.6" />
<rect x="1212.80" y="281.94" width="8.1" height="6.29" fill="#000"/>
<line x1="1206.50" y1="336.53" x2="1220.90" y2="336.53" stroke="#000" stroke-width="2.6" />
<line x1="1212.80" y1="374.68" x2="1220.90" y2="374.68" stroke="#000" stroke-width="2.6" />
<line x1="1212.80" y1="365.07" x2="1220.90" y2="365.07" stroke="#000" stroke-width="2.6" />
<line x1="1212.80" y1="358.25" x2="1220.90" y2="358.25" stroke="#000" stroke-width="2.6" />
<line x1="1212.80" y1="352.96" x2="1220.90" y2="352.96" stroke="#000" stroke-width="2.6" />
<line x1="1212.80" y1="348.63" x2="1220.90" y2="348.63" stroke="#000" stroke-width="2.6" />
<line x1="1212.80" y1="344.98" x2="1220.90" y2="344.98" stroke="#000" stroke-width="2.6" />
<line x1="1212.80" y1="341.81" x2="1220.90" y2="341.81" stroke="#000" stroke-width="2.6" />
<line x1="1212.80" y1="339.02" x2="1220.90" y2="339.02" stroke="#000" stroke-width="2.6" />
<rect x="1212.80" y="336.53" width="8.1" height="6.29" fill="#000"/>
<line x1="1206.50" y1="391.11" x2="1220.90" y2="391.11" stroke="#000" stroke-width="2.6" />
<line x1="1212.80" y1="429.26" x2="1220.90" y2="429.26" stroke="#000" stroke-width="2.6" />
<line x1="1212.80" y1="419.65" x2="1220.90" y2="419.65" stroke="#000" stroke-width="2.6" />
<line x1="1212.80" y1="412.83" x2="1220.90" y2="412.83" stroke="#000" stroke-width="2.6" />
<line x1="1212.80" y1="407.54" x2="1220.90" y2="407.54" stroke="#000" stroke-width="2.6" />
<line x1="1212.80" y1="403.22" x2="1220.90" y2="403.22" stroke="#000" stroke-width="2.6" />
<line x1="1212.80" y1="399.57" x2="1220.90" y2="399.57" stroke="#000" stroke-width="2.6" />
<line x1="1212.80" y1="396.40" x2="1220.90" y2="396.40" stroke="#000" stroke-width="2.6" />
<line x1="1212.80" y1="393.61" x2="1220.90" y2="393.61" stroke="#000" stroke-width="2.6" />
<rect x="1212.80" y="391.11" width="8.1" height="6.29" fill="#000"/>
<line x1="1206.50" y1="445.70" x2="1220.90" y2="445.70" stroke="#000" stroke-width="2.6" />
<line x1="1212.80" y1="483.85" x2="1220.90" y2="483.85" stroke="#000" stroke-width="2.6" />
<line x1="1212.80" y1="474.24" x2="1220.90" y2="474.24" stroke="#000" stroke-width="2.6" />
<line x1="1212.80" y1="467.42" x2="1220.90" y2="467.42" stroke="#000" stroke-width="2.6" />
<line x1="1212.80" y1="462.13" x2="1220.90" y2="462.13" stroke="#000" stroke-width="2.6" />
<line x1="1212.80" y1="457.80" x2="1220.90" y2="457.80" stroke="#000" stroke-width="2.6" />
<line x1="1212.80" y1="454.15" x2="1220.90" y2="454.15" stroke="#000" stroke-width="2.6" />
<line x1="1212.80" y1="450.98" x2="1220.90" y2="450.98" stroke="#000" stroke-width="2.6" />
<line x1="1212.80" y1="448.19" x2="1220.90" y2="448.19" stroke="#000" stroke-width="2.6" />
<rect x="1212.80" y="445.70" width="8.1" height="6.29" fill="#000"/>
<line x1="1206.50" y1="500.28" x2="1220.90" y2="500.28" stroke="#000" stroke-width="2.6" />
<line x1="1212.80" y1="538.43" x2="1220.90" y2="538.43" stroke="#000" stroke-width="2.6" />
<line x1="1212.80" y1="528.82" x2="1220.90" y2="528.82" stroke="#000" stroke-width="2.6" />
<line x1="1212.80" y1="522.00" x2="1220.90" y2="522.00" stroke="#000" stroke-width="2.6" />
<line x1="1212.80" y1="516.71" x2="1220.90" y2="516.71" stroke="#000" stroke-width="2.6" />
<line x1="1212.80" y1="512.39" x2="1220.90" y2="512.39" stroke="#000" stroke-width="2.6" />
<line x1="1212.80" y1="508.74" x2="1220.90" y2="508.74" stroke="#000" stroke-width="2.6" />
<line x1="1212.80" y1="505.57" x2="1220.90" y2="505.57" stroke="#000" stroke-width="2.6" />
<line x1="1212.80" y1="502.78" x2="1220.90" y2="502.78" stroke="#000" stroke-width="2.6" />
<rect x="1212.80" y="500.28" width="8.1" height="6.29" fill="#000"/>
<line x1="1206.50" y1="554.87" x2="1220.90" y2="554.87" stroke="#000" stroke-width="2.6" />
<line x1="1212.80" y1="593.02" x2="1220.90" y2="593.02" stroke="#000" stroke-width="2.6" />
<line x1="1212.80" y1="583.41" x2="1220.90" y2="583.41" stroke="#000" stroke-width="2.6" />
<line x1="1212.80" y1="576.59" x2="1220.90" y2="576.59" stroke="#000" stroke-width="2.6" />
<line x1="1212.80" y1="571.30" x2="1220.90" y2="571.30" stroke="#000" stroke-width="2.6" />
<line x1="1212.80" y1="566.97" x2="1220.90" y2="566.97" stroke="#000" stroke-width="2.6" />
<line x1="1212.80" y1="563.32" x2="1220.90" y2="563.32" stroke="#000" stroke-width="2.6" />
<line x1="1212.80" y1="560.15" x2="1220.90" y2="560.15" stroke="#000" stroke-width="2.6" />
<line x1="1212.80" y1="557.36" x2="1220.90" y2="557.36" stroke="#000" stroke-width="2.6" />
<rect x="1212.80" y="554.87" width="8.1" height="6.29" fill="#000"/>
<line x1="1206.50" y1="609.45" x2="1220.90" y2="609.45" stroke="#000" stroke-width="2.6" />
<line x1="1220.53" y1="609.45" x2="1220.53" y2="616.85" stroke="#000" stroke-width="2.6" />
<line x1="1242.33" y1="609.45" x2="1242.33" y2="616.85" stroke="#000" stroke-width="2.6" />
<line x1="1259.24" y1="609.45" x2="1259.24" y2="616.85" stroke="#000" stroke-width="2.6" />
<line x1="1273.05" y1="609.45" x2="1273.05" y2="616.85" stroke="#000" stroke-width="2.6" />
<line x1="1284.73" y1="609.45" x2="1284.73" y2="616.85" stroke="#000" stroke-width="2.6" />
<line x1="1294.84" y1="609.45" x2="1294.84" y2="616.85" stroke="#000" stroke-width="2.6" />
<line x1="1303.77" y1="609.45" x2="1303.77" y2="616.85" stroke="#000" stroke-width="2.6" />
<line x1="1311.75" y1="609.45" x2="1311.75" y2="623.65" stroke="#000" stroke-width="2.6" />
<line x1="1364.26" y1="609.45" x2="1364.26" y2="616.85" stroke="#000" stroke-width="2.6" />
<line x1="1394.98" y1="609.45" x2="1394.98" y2="616.85" stroke="#000" stroke-width="2.6" />
<line x1="1416.78" y1="609.45" x2="1416.78" y2="616.85" stroke="#000" stroke-width="2.6" />
<line x1="1433.69" y1="609.45" x2="1433.69" y2="616.85" stroke="#000" stroke-width="2.6" />
<line x1="1447.50" y1="609.45" x2="1447.50" y2="616.85" stroke="#000" stroke-width="2.6" />
<line x1="1459.18" y1="609.45" x2="1459.18" y2="616.85" stroke="#000" stroke-width="2.6" />
<line x1="1469.29" y1="609.45" x2="1469.29" y2="616.85" stroke="#000" stroke-width="2.6" />
<line x1="1478.22" y1="609.45" x2="1478.22" y2="616.85" stroke="#000" stroke-width="2.6" />
<line x1="1486.20" y1="609.45" x2="1486.20" y2="623.65" stroke="#000" stroke-width="2.6" />
<line x1="1538.71" y1="609.45" x2="1538.71" y2="616.85" stroke="#000" stroke-width="2.6" />
<line x1="1569.43" y1="609.45" x2="1569.43" y2="616.85" stroke="#000" stroke-width="2.6" />
<line x1="1591.23" y1="609.45" x2="1591.23" y2="616.85" stroke="#000" stroke-width="2.6" />
<line x1="1608.14" y1="609.45" x2="1608.14" y2="616.85" stroke="#000" stroke-width="2.6" />
<line x1="1621.95" y1="609.45" x2="1621.95" y2="616.85" stroke="#000" stroke-width="2.6" />
<line x1="1633.63" y1="609.45" x2="1633.63" y2="616.85" stroke="#000" stroke-width="2.6" />
<line x1="1643.74" y1="609.45" x2="1643.74" y2="616.85" stroke="#000" stroke-width="2.6" />
<line x1="1652.67" y1="609.45" x2="1652.67" y2="616.85" stroke="#000" stroke-width="2.6" />
<line x1="1660.65" y1="609.45" x2="1660.65" y2="623.65" stroke="#000" stroke-width="2.6" />
<line x1="1713.16" y1="609.45" x2="1713.16" y2="616.85" stroke="#000" stroke-width="2.6" />
<line x1="1743.88" y1="609.45" x2="1743.88" y2="616.85" stroke="#000" stroke-width="2.6" />
<line x1="1765.68" y1="609.45" x2="1765.68" y2="616.85" stroke="#000" stroke-width="2.6" />
<line x1="1782.59" y1="609.45" x2="1782.59" y2="616.85" stroke="#000" stroke-width="2.6" />
<line x1="1796.40" y1="609.45" x2="1796.40" y2="616.85" stroke="#000" stroke-width="2.6" />
<line x1="1808.08" y1="609.45" x2="1808.08" y2="616.85" stroke="#000" stroke-width="2.6" />
<line x1="1818.19" y1="609.45" x2="1818.19" y2="616.85" stroke="#000" stroke-width="2.6" />
<line x1="1827.12" y1="609.45" x2="1827.12" y2="616.85" stroke="#000" stroke-width="2.6" />
<line x1="1835.10" y1="609.45" x2="1835.10" y2="623.65" stroke="#000" stroke-width="2.6" />
<line x1="1887.61" y1="609.45" x2="1887.61" y2="616.85" stroke="#000" stroke-width="2.6" />
<line x1="1918.33" y1="609.45" x2="1918.33" y2="616.85" stroke="#000" stroke-width="2.6" />
<line x1="1940.13" y1="609.45" x2="1940.13" y2="616.85" stroke="#000" stroke-width="2.6" />
<line x1="1957.04" y1="609.45" x2="1957.04" y2="616.85" stroke="#000" stroke-width="2.6" />
<g transform="translate(17.03,29.80) scale(0.89,1.0)"><text font-size="34.5" font-weight="bold" fill="#000" stroke="#000" stroke-width="0.3">a</text></g>
<g transform="translate(1150.80,29.90) scale(1.08,1.0)"><text font-size="33.5" font-weight="bold" fill="#000" stroke="#000" stroke-width="0.3">b</text></g>
<g transform="translate(66.99,68.55) scale(1.0,1.028)"><text font-size="29.6" fill="#000" stroke="#000" stroke-width="0.5">1.0</text><rect x="1.18" y="-3.86" width="5.64" height="5.91" fill="#fff"/><rect x="10.71" y="-3.86" width="5.27" height="5.91" fill="#fff"/></g>
<g transform="translate(66.99,207.75) scale(1.0,1.028)"><text font-size="29.6" fill="#000" stroke="#000" stroke-width="0.5">0.5</text></g>
<g transform="translate(66.99,348.80) scale(1.0,1.028)"><text font-size="29.6" fill="#000" stroke="#000" stroke-width="0.5">0.0</text></g>
<g transform="translate(51.12,480.85) scale(1.0,1.028)"><text font-size="29.6" fill="#000" stroke="#000" stroke-width="0.5">-0.5</text></g>
<g transform="translate(51.12,615.55) scale(1.0,1.028)"><text font-size="29.6" fill="#000" stroke="#000" stroke-width="0.5">-1.0</text><rect x="11.04" y="-3.86" width="5.64" height="5.91" fill="#fff"/><rect x="20.57" y="-3.86" width="5.27" height="5.91" fill="#fff"/></g>
<g transform="translate(120.47,651.65) scale(1.0,1.028)"><text font-size="29.6" fill="#000" stroke="#000" stroke-width="0.5">0</text></g>
<g transform="translate(348.69,651.65) scale(1.0,1.028)"><text font-size="29.6" fill="#000" stroke="#000" stroke-width="0.5">5</text></g>
<g transform="translate(565.56,651.65) scale(1.0,1.028)"><text font-size="29.6" fill="#000" stroke="#000" stroke-width="0.5">10</text><rect x="1.18" y="-3.86" width="5.64" height="5.91" fill="#fff"/><rect x="10.71" y="-3.86" width="5.27" height="5.91" fill="#fff"/></g>
<g transform="translate(797.46,651.65) scale(1.0,1.028)"><text font-size="29.6" fill="#000" stroke="#000" stroke-width="0.5">15</text><rect x="1.18" y="-3.86" width="5.64" height="5.91" fill="#fff"/><rect x="10.71" y="-3.86" width="5.27" height="5.91" fill="#fff"/></g>
<g transform="translate(1021.92,651.65) scale(1.0,1.028)"><text font-size="29.6" fill="#000" stroke="#000" stroke-width="0.5">20</text></g>
<g transform="translate(527.87,696.60)"><text font-size="29.0" fill="#000" stroke="#000" stroke-width="0.5">Time (s)</text></g>
<g transform="translate(1564.46,701.20)"><text font-size="29.0" fill="#000" stroke="#000" stroke-width="0.5">Frequency (Hz)</text></g>
<g transform="translate(1143.76,180.45) scale(1.0,1.028)"><text font-size="29.6" fill="#000" stroke="#000" stroke-width="0.5">10</text><rect x="1.18" y="-3.86" width="5.64" height="5.91" fill="#fff"/><rect x="10.71" y="-3.86" width="5.27" height="5.91" fill="#fff"/></g>
<g transform="translate(1176.82,171.60)"><text font-size="19.0" fill="#000" stroke="#000" stroke-width="0.4">1</text><rect x="0.76" y="-2.98" width="3.44" height="4.98" fill="#fff"/><rect x="7.06" y="-2.98" width="3.20" height="4.98" fill="#fff"/></g>
<g transform="translate(1143.76,304.45) scale(1.0,1.028)"><text font-size="29.6" fill="#000" stroke="#000" stroke-width="0.5">10</text><rect x="1.18" y="-3.86" width="5.64" height="5.91" fill="#fff"/><rect x="10.71" y="-3.86" width="5.27" height="5.91" fill="#fff"/></g>
<g transform="translate(1176.75,295.70)"><text font-size="19.0" fill="#000" stroke="#000" stroke-width="0.4">-1</text><rect x="7.09" y="-2.98" width="3.44" height="4.98" fill="#fff"/><rect x="13.39" y="-2.98" width="3.20" height="4.98" fill="#fff"/></g>
<g transform="translate(1143.76,407.45) scale(1.0,1.028)"><text font-size="29.6" fill="#000" stroke="#000" stroke-width="0.5">10</text><rect x="1.18" y="-3.86" width="5.64" height="5.91" fill="#fff"/><rect x="10.71" y="-3.86" width="5.27" height="5.91" fill="#fff"/></g>
<g transform="translate(1176.75,398.60)"><text font-size="19.0" fill="#000" stroke="#000" stroke-width="0.4">-3</text></g>
<g transform="translate(1143.76,523.55) scale(1.0,1.028)"><text font-size="29.6" fill="#000" stroke="#000" stroke-width="0.5">10</text><rect x="1.18" y="-3.86" width="5.64" height="5.91" fill="#fff"/><rect x="10.71" y="-3.86" width="5.27" height="5.91" fill="#fff"/></g>
<g transform="translate(1176.75,514.80)"><text font-size="19.0" fill="#000" stroke="#000" stroke-width="0.4">-5</text></g>
<g transform="translate(1294.76,655.65) scale(1.0,1.028)"><text font-size="29.6" fill="#000" stroke="#000" stroke-width="0.5">10</text><rect x="1.18" y="-3.86" width="5.64" height="5.91" fill="#fff"/><rect x="10.71" y="-3.86" width="5.27" height="5.91" fill="#fff"/></g>
<g transform="translate(1327.85,646.20)"><text font-size="19.0" fill="#000" stroke="#000" stroke-width="0.4">-2</text></g>
<g transform="translate(1469.56,655.65) scale(1.0,1.028)"><text font-size="29.6" fill="#000" stroke="#000" stroke-width="0.5">10</text><rect x="1.18" y="-3.86" width="5.64" height="5.91" fill="#fff"/><rect x="10.71" y="-3.86" width="5.27" height="5.91" fill="#fff"/></g>
<g transform="translate(1502.44,646.20)"><text font-size="19.0" fill="#000" stroke="#000" stroke-width="0.4">-1</text><rect x="7.09" y="-2.98" width="3.44" height="4.98" fill="#fff"/><rect x="13.39" y="-2.98" width="3.20" height="4.98" fill="#fff"/></g>
<g transform="translate(1645.91,655.65) scale(1.0,1.028)"><text font-size="29.6" fill="#000" stroke="#000" stroke-width="0.5">10</text><rect x="1.18" y="-3.86" width="5.64" height="5.91" fill="#fff"/><rect x="10.71" y="-3.86" width="5.27" height="5.91" fill="#fff"/></g>
<g transform="translate(1678.78,646.20)"><text font-size="19.0" fill="#000" stroke="#000" stroke-width="0.4">0</text></g>
<g transform="translate(1819.56,655.65) scale(1.0,1.028)"><text font-size="29.6" fill="#000" stroke="#000" stroke-width="0.5">10</text><rect x="1.18" y="-3.86" width="5.64" height="5.91" fill="#fff"/><rect x="10.71" y="-3.86" width="5.27" height="5.91" fill="#fff"/></g>
<g transform="translate(1852.97,646.20)"><text font-size="19.0" fill="#000" stroke="#000" stroke-width="0.4">1</text><rect x="0.76" y="-2.98" width="3.44" height="4.98" fill="#fff"/><rect x="7.06" y="-2.98" width="3.20" height="4.98" fill="#fff"/></g>
<text transform="translate(27.70,379.00) rotate(-90)" font-size="29.0" fill="#000" stroke="#000" stroke-width="0.5" xml:space="preserve"><tspan x="-1.16" y="0.00" font-size="29.0">δ</tspan><tspan x="16.22" y="5.60" font-size="18.5">xx</tspan><tspan x="37.20" y="0.00" font-size="29.0"> (</tspan><tspan x="54.92" y="0.00" font-size="29.0" font-style="italic">μ</tspan><tspan x="71.41" y="0.00" font-size="29.0">m)</tspan></text>
<text transform="translate(1119.10,422.70) rotate(-90)" font-size="29.0" fill="#000" stroke="#000" stroke-width="0.5" xml:space="preserve"><tspan x="-1.30" y="0.00" font-size="29.0">S</tspan><tspan x="17.22" y="6.40" font-size="18.5">xx</tspan><tspan x="37.20" y="0.00" font-size="29.0"> (</tspan><tspan x="54.92" y="0.00" font-size="29.0" font-style="italic">μ</tspan><tspan x="71.41" y="0.00" font-size="29.0">m</tspan><tspan x="95.57" y="-9.00" font-size="18.5">2</tspan><tspan x="105.85" y="0.00" font-size="29.0">/Hz)</tspan></text>
</svg>
</body></html>
